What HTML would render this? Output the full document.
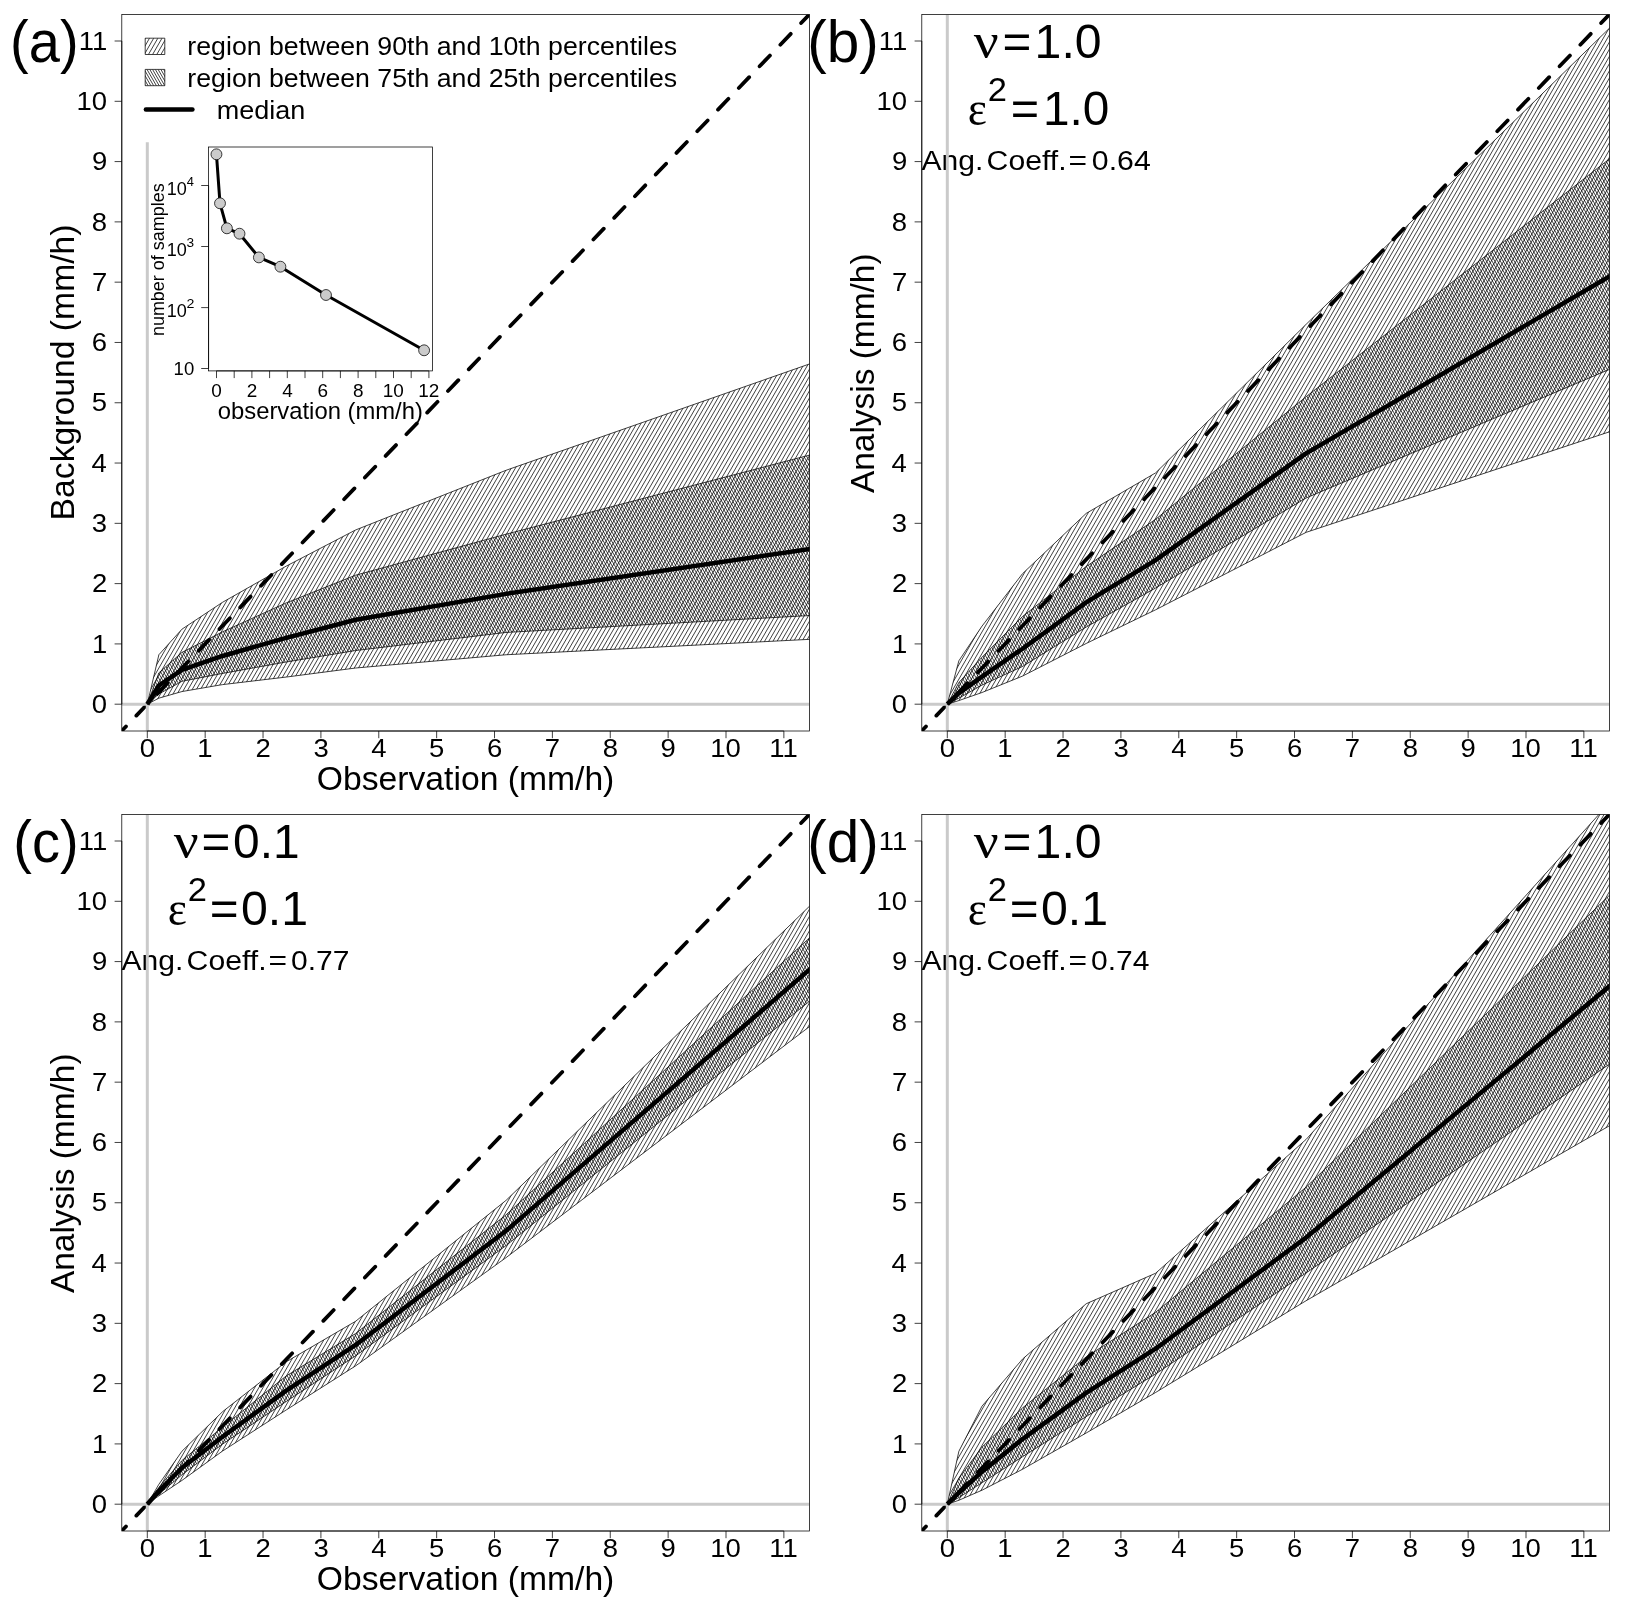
<!DOCTYPE html>
<html lang="en"><head><meta charset="utf-8"><title>Percentile comparison panels</title>
<style>html,body{margin:0;padding:0;background:#fff}svg{display:block}text{fill:#000}</style></head><body>
<svg width="1625" height="1611" viewBox="0 0 1625 1611" style="will-change:transform">
<rect width="1625" height="1611" fill="#fff"/>
<g id="panel-a">
<clipPath id="clipa"><rect x="121.8" y="14.5" width="687.7" height="716.5"/></clipPath>
<g clip-path="url(#clipa)">
<path d="M121.8 730.77L818.59 4.84" stroke="#000" stroke-width="3.75" stroke-dasharray="15 15" stroke-dashoffset="9" stroke-linecap="round" fill="none"/>
<path d="M147.3 142.3V731M121.8 704.2H809.5" stroke="#cacaca" stroke-width="3" fill="none"/>
<clipPath id="pgao"><polygon points="147.3,704.2 158.87,654.76 182.02,629.14 222.53,602.31 286.19,566.14 355.63,529.96 506.09,470.27 824.38,358.74 824.38,638.6 506.09,654.76 355.63,668.03 286.19,677.07 222.53,684.61 182.02,691.54 158.87,698.17 147.3,704.2"/></clipPath>
<g clip-path="url(#pgao)"><path d="M150.38 358.74L-49.07 704.2M154.53 358.74L-44.92 704.2M158.69 358.74L-40.76 704.2M162.85 358.74L-36.6 704.2M167.01 358.74L-32.45 704.2M171.16 358.74L-28.29 704.2M175.32 358.74L-24.13 704.2M179.48 358.74L-19.98 704.2M183.63 358.74L-15.82 704.2M187.79 358.74L-11.66 704.2M191.95 358.74L-7.51 704.2M196.1 358.74L-3.35 704.2M200.26 358.74L0.81 704.2M204.42 358.74L4.97 704.2M208.57 358.74L9.12 704.2M212.73 358.74L13.28 704.2M216.89 358.74L17.44 704.2M221.05 358.74L21.59 704.2M225.2 358.74L25.75 704.2M229.36 358.74L29.91 704.2M233.52 358.74L34.06 704.2M237.67 358.74L38.22 704.2M241.83 358.74L42.38 704.2M245.99 358.74L46.53 704.2M250.14 358.74L50.69 704.2M254.3 358.74L54.85 704.2M258.46 358.74L59.01 704.2M262.61 358.74L63.16 704.2M266.77 358.74L67.32 704.2M270.93 358.74L71.48 704.2M275.09 358.74L75.63 704.2M279.24 358.74L79.79 704.2M283.4 358.74L83.95 704.2M287.56 358.74L88.1 704.2M291.71 358.74L92.26 704.2M295.87 358.74L96.42 704.2M300.03 358.74L100.57 704.2M304.18 358.74L104.73 704.2M308.34 358.74L108.89 704.2M312.5 358.74L113.05 704.2M316.65 358.74L117.2 704.2M320.81 358.74L121.36 704.2M324.97 358.74L125.52 704.2M329.13 358.74L129.67 704.2M333.28 358.74L133.83 704.2M337.44 358.74L137.99 704.2M341.6 358.74L142.14 704.2M345.75 358.74L146.3 704.2M349.91 358.74L150.46 704.2M354.07 358.74L154.61 704.2M358.22 358.74L158.77 704.2M362.38 358.74L162.93 704.2M366.54 358.74L167.09 704.2M370.69 358.74L171.24 704.2M374.85 358.74L175.4 704.2M379.01 358.74L179.56 704.2M383.17 358.74L183.71 704.2M387.32 358.74L187.87 704.2M391.48 358.74L192.03 704.2M395.64 358.74L196.18 704.2M399.79 358.74L200.34 704.2M403.95 358.74L204.5 704.2M408.11 358.74L208.65 704.2M412.26 358.74L212.81 704.2M416.42 358.74L216.97 704.2M420.58 358.74L221.13 704.2M424.73 358.74L225.28 704.2M428.89 358.74L229.44 704.2M433.05 358.74L233.6 704.2M437.21 358.74L237.75 704.2M441.36 358.74L241.91 704.2M445.52 358.74L246.07 704.2M449.68 358.74L250.22 704.2M453.83 358.74L254.38 704.2M457.99 358.74L258.54 704.2M462.15 358.74L262.69 704.2M466.3 358.74L266.85 704.2M470.46 358.74L271.01 704.2M474.62 358.74L275.17 704.2M478.77 358.74L279.32 704.2M482.93 358.74L283.48 704.2M487.09 358.74L287.64 704.2M491.25 358.74L291.79 704.2M495.4 358.74L295.95 704.2M499.56 358.74L300.11 704.2M503.72 358.74L304.26 704.2M507.87 358.74L308.42 704.2M512.03 358.74L312.58 704.2M516.19 358.74L316.73 704.2M520.34 358.74L320.89 704.2M524.5 358.74L325.05 704.2M528.66 358.74L329.21 704.2M532.81 358.74L333.36 704.2M536.97 358.74L337.52 704.2M541.13 358.74L341.68 704.2M545.29 358.74L345.83 704.2M549.44 358.74L349.99 704.2M553.6 358.74L354.15 704.2M557.76 358.74L358.3 704.2M561.91 358.74L362.46 704.2M566.07 358.74L366.62 704.2M570.23 358.74L370.77 704.2M574.38 358.74L374.93 704.2M578.54 358.74L379.09 704.2M582.7 358.74L383.25 704.2M586.85 358.74L387.4 704.2M591.01 358.74L391.56 704.2M595.17 358.74L395.72 704.2M599.33 358.74L399.87 704.2M603.48 358.74L404.03 704.2M607.64 358.74L408.19 704.2M611.8 358.74L412.34 704.2M615.95 358.74L416.5 704.2M620.11 358.74L420.66 704.2M624.27 358.74L424.81 704.2M628.42 358.74L428.97 704.2M632.58 358.74L433.13 704.2M636.74 358.74L437.29 704.2M640.89 358.74L441.44 704.2M645.05 358.74L445.6 704.2M649.21 358.74L449.76 704.2M653.37 358.74L453.91 704.2M657.52 358.74L458.07 704.2M661.68 358.74L462.23 704.2M665.84 358.74L466.38 704.2M669.99 358.74L470.54 704.2M674.15 358.74L474.7 704.2M678.31 358.74L478.85 704.2M682.46 358.74L483.01 704.2M686.62 358.74L487.17 704.2M690.78 358.74L491.33 704.2M694.93 358.74L495.48 704.2M699.09 358.74L499.64 704.2M703.25 358.74L503.8 704.2M707.41 358.74L507.95 704.2M711.56 358.74L512.11 704.2M715.72 358.74L516.27 704.2M719.88 358.74L520.42 704.2M724.03 358.74L524.58 704.2M728.19 358.74L528.74 704.2M732.35 358.74L532.89 704.2M736.5 358.74L537.05 704.2M740.66 358.74L541.21 704.2M744.82 358.74L545.37 704.2M748.97 358.74L549.52 704.2M753.13 358.74L553.68 704.2M757.29 358.74L557.84 704.2M761.45 358.74L561.99 704.2M765.6 358.74L566.15 704.2M769.76 358.74L570.31 704.2M773.92 358.74L574.46 704.2M778.07 358.74L578.62 704.2M782.23 358.74L582.78 704.2M786.39 358.74L586.93 704.2M790.54 358.74L591.09 704.2M794.7 358.74L595.25 704.2M798.86 358.74L599.41 704.2M803.01 358.74L603.56 704.2M807.17 358.74L607.72 704.2M811.33 358.74L611.88 704.2M815.49 358.74L616.03 704.2M819.64 358.74L620.19 704.2M823.8 358.74L624.35 704.2M827.96 358.74L628.5 704.2M832.11 358.74L632.66 704.2M836.27 358.74L636.82 704.2M840.43 358.74L640.97 704.2M844.58 358.74L645.13 704.2M848.74 358.74L649.29 704.2M852.9 358.74L653.45 704.2M857.05 358.74L657.6 704.2M861.21 358.74L661.76 704.2M865.37 358.74L665.92 704.2M869.53 358.74L670.07 704.2M873.68 358.74L674.23 704.2M877.84 358.74L678.39 704.2M882 358.74L682.54 704.2M886.15 358.74L686.7 704.2M890.31 358.74L690.86 704.2M894.47 358.74L695.01 704.2M898.62 358.74L699.17 704.2M902.78 358.74L703.33 704.2M906.94 358.74L707.49 704.2M911.09 358.74L711.64 704.2M915.25 358.74L715.8 704.2M919.41 358.74L719.96 704.2M923.57 358.74L724.11 704.2M927.72 358.74L728.27 704.2M931.88 358.74L732.43 704.2M936.04 358.74L736.58 704.2M940.19 358.74L740.74 704.2M944.35 358.74L744.9 704.2M948.51 358.74L749.05 704.2M952.66 358.74L753.21 704.2M956.82 358.74L757.37 704.2M960.98 358.74L761.53 704.2M965.13 358.74L765.68 704.2M969.29 358.74L769.84 704.2M973.45 358.74L774 704.2M977.61 358.74L778.15 704.2M981.76 358.74L782.31 704.2M985.92 358.74L786.47 704.2M990.08 358.74L790.62 704.2M994.23 358.74L794.78 704.2M998.39 358.74L798.94 704.2M1002.55 358.74L803.09 704.2M1006.7 358.74L807.25 704.2M1010.86 358.74L811.41 704.2M1015.02 358.74L815.56 704.2M1019.17 358.74L819.72 704.2M1023.33 358.74L823.88 704.2" stroke="#000" stroke-width="0.75" fill="none"/></g>
<polygon points="147.3,704.2 158.87,654.76 182.02,629.14 222.53,602.31 286.19,566.14 355.63,529.96 506.09,470.27 824.38,358.74 824.38,638.6 506.09,654.76 355.63,668.03 286.19,677.07 222.53,684.61 182.02,691.54 158.87,698.17 147.3,704.2" fill="none" stroke="#000" stroke-width="0.75" stroke-linejoin="round"/>
<clipPath id="pgai"><polygon points="147.3,704.2 158.87,672.85 182.02,652.35 222.53,631.85 286.19,602.91 355.63,575.18 506.09,534.18 824.38,451.22 824.38,614.73 506.09,632.45 355.63,650.54 286.19,662 222.53,673.45 182.02,681.29 158.87,693.95 147.3,704.2"/></clipPath>
<g clip-path="url(#pgai)"><path d="M823.08 451.22L969.14 704.2M820.31 451.22L966.37 704.2M817.54 451.22L963.6 704.2M814.77 451.22L960.83 704.2M812 451.22L958.06 704.2M809.23 451.22L955.28 704.2M806.46 451.22L952.51 704.2M803.68 451.22L949.74 704.2M800.91 451.22L946.97 704.2M798.14 451.22L944.2 704.2M795.37 451.22L941.43 704.2M792.6 451.22L938.66 704.2M789.83 451.22L935.88 704.2M787.06 451.22L933.11 704.2M784.29 451.22L930.34 704.2M781.51 451.22L927.57 704.2M778.74 451.22L924.8 704.2M775.97 451.22L922.03 704.2M773.2 451.22L919.26 704.2M770.43 451.22L916.49 704.2M767.66 451.22L913.71 704.2M764.89 451.22L910.94 704.2M762.12 451.22L908.17 704.2M759.34 451.22L905.4 704.2M756.57 451.22L902.63 704.2M753.8 451.22L899.86 704.2M751.03 451.22L897.09 704.2M748.26 451.22L894.32 704.2M745.49 451.22L891.54 704.2M742.72 451.22L888.77 704.2M739.95 451.22L886 704.2M737.17 451.22L883.23 704.2M734.4 451.22L880.46 704.2M731.63 451.22L877.69 704.2M728.86 451.22L874.92 704.2M726.09 451.22L872.15 704.2M723.32 451.22L869.37 704.2M720.55 451.22L866.6 704.2M717.78 451.22L863.83 704.2M715 451.22L861.06 704.2M712.23 451.22L858.29 704.2M709.46 451.22L855.52 704.2M706.69 451.22L852.75 704.2M703.92 451.22L849.98 704.2M701.15 451.22L847.2 704.2M698.38 451.22L844.43 704.2M695.6 451.22L841.66 704.2M692.83 451.22L838.89 704.2M690.06 451.22L836.12 704.2M687.29 451.22L833.35 704.2M684.52 451.22L830.58 704.2M681.75 451.22L827.8 704.2M678.98 451.22L825.03 704.2M676.21 451.22L822.26 704.2M673.43 451.22L819.49 704.2M670.66 451.22L816.72 704.2M667.89 451.22L813.95 704.2M665.12 451.22L811.18 704.2M662.35 451.22L808.41 704.2M659.58 451.22L805.63 704.2M656.81 451.22L802.86 704.2M654.04 451.22L800.09 704.2M651.26 451.22L797.32 704.2M648.49 451.22L794.55 704.2M645.72 451.22L791.78 704.2M642.95 451.22L789.01 704.2M640.18 451.22L786.24 704.2M637.41 451.22L783.46 704.2M634.64 451.22L780.69 704.2M631.87 451.22L777.92 704.2M629.09 451.22L775.15 704.2M626.32 451.22L772.38 704.2M623.55 451.22L769.61 704.2M620.78 451.22L766.84 704.2M618.01 451.22L764.07 704.2M615.24 451.22L761.29 704.2M612.47 451.22L758.52 704.2M609.7 451.22L755.75 704.2M606.92 451.22L752.98 704.2M604.15 451.22L750.21 704.2M601.38 451.22L747.44 704.2M598.61 451.22L744.67 704.2M595.84 451.22L741.9 704.2M593.07 451.22L739.12 704.2M590.3 451.22L736.35 704.2M587.53 451.22L733.58 704.2M584.75 451.22L730.81 704.2M581.98 451.22L728.04 704.2M579.21 451.22L725.27 704.2M576.44 451.22L722.5 704.2M573.67 451.22L719.72 704.2M570.9 451.22L716.95 704.2M568.13 451.22L714.18 704.2M565.35 451.22L711.41 704.2M562.58 451.22L708.64 704.2M559.81 451.22L705.87 704.2M557.04 451.22L703.1 704.2M554.27 451.22L700.33 704.2M551.5 451.22L697.55 704.2M548.73 451.22L694.78 704.2M545.96 451.22L692.01 704.2M543.18 451.22L689.24 704.2M540.41 451.22L686.47 704.2M537.64 451.22L683.7 704.2M534.87 451.22L680.93 704.2M532.1 451.22L678.16 704.2M529.33 451.22L675.38 704.2M526.56 451.22L672.61 704.2M523.79 451.22L669.84 704.2M521.01 451.22L667.07 704.2M518.24 451.22L664.3 704.2M515.47 451.22L661.53 704.2M512.7 451.22L658.76 704.2M509.93 451.22L655.99 704.2M507.16 451.22L653.21 704.2M504.39 451.22L650.44 704.2M501.62 451.22L647.67 704.2M498.84 451.22L644.9 704.2M496.07 451.22L642.13 704.2M493.3 451.22L639.36 704.2M490.53 451.22L636.59 704.2M487.76 451.22L633.82 704.2M484.99 451.22L631.04 704.2M482.22 451.22L628.27 704.2M479.45 451.22L625.5 704.2M476.67 451.22L622.73 704.2M473.9 451.22L619.96 704.2M471.13 451.22L617.19 704.2M468.36 451.22L614.42 704.2M465.59 451.22L611.64 704.2M462.82 451.22L608.87 704.2M460.05 451.22L606.1 704.2M457.27 451.22L603.33 704.2M454.5 451.22L600.56 704.2M451.73 451.22L597.79 704.2M448.96 451.22L595.02 704.2M446.19 451.22L592.25 704.2M443.42 451.22L589.47 704.2M440.65 451.22L586.7 704.2M437.88 451.22L583.93 704.2M435.1 451.22L581.16 704.2M432.33 451.22L578.39 704.2M429.56 451.22L575.62 704.2M426.79 451.22L572.85 704.2M424.02 451.22L570.08 704.2M421.25 451.22L567.3 704.2M418.48 451.22L564.53 704.2M415.71 451.22L561.76 704.2M412.93 451.22L558.99 704.2M410.16 451.22L556.22 704.2M407.39 451.22L553.45 704.2M404.62 451.22L550.68 704.2M401.85 451.22L547.91 704.2M399.08 451.22L545.13 704.2M396.31 451.22L542.36 704.2M393.54 451.22L539.59 704.2M390.76 451.22L536.82 704.2M387.99 451.22L534.05 704.2M385.22 451.22L531.28 704.2M382.45 451.22L528.51 704.2M379.68 451.22L525.74 704.2M376.91 451.22L522.96 704.2M374.14 451.22L520.19 704.2M371.37 451.22L517.42 704.2M368.59 451.22L514.65 704.2M365.82 451.22L511.88 704.2M363.05 451.22L509.11 704.2M360.28 451.22L506.34 704.2M357.51 451.22L503.56 704.2M354.74 451.22L500.79 704.2M351.97 451.22L498.02 704.2M349.19 451.22L495.25 704.2M346.42 451.22L492.48 704.2M343.65 451.22L489.71 704.2M340.88 451.22L486.94 704.2M338.11 451.22L484.17 704.2M335.34 451.22L481.39 704.2M332.57 451.22L478.62 704.2M329.8 451.22L475.85 704.2M327.02 451.22L473.08 704.2M324.25 451.22L470.31 704.2M321.48 451.22L467.54 704.2M318.71 451.22L464.77 704.2M315.94 451.22L462 704.2M313.17 451.22L459.22 704.2M310.4 451.22L456.45 704.2M307.63 451.22L453.68 704.2M304.85 451.22L450.91 704.2M302.08 451.22L448.14 704.2M299.31 451.22L445.37 704.2M296.54 451.22L442.6 704.2M293.77 451.22L439.83 704.2M291 451.22L437.05 704.2M288.23 451.22L434.28 704.2M285.46 451.22L431.51 704.2M282.68 451.22L428.74 704.2M279.91 451.22L425.97 704.2M277.14 451.22L423.2 704.2M274.37 451.22L420.43 704.2M271.6 451.22L417.66 704.2M268.83 451.22L414.88 704.2M266.06 451.22L412.11 704.2M263.29 451.22L409.34 704.2M260.51 451.22L406.57 704.2M257.74 451.22L403.8 704.2M254.97 451.22L401.03 704.2M252.2 451.22L398.26 704.2M249.43 451.22L395.48 704.2M246.66 451.22L392.71 704.2M243.89 451.22L389.94 704.2M241.11 451.22L387.17 704.2M238.34 451.22L384.4 704.2M235.57 451.22L381.63 704.2M232.8 451.22L378.86 704.2M230.03 451.22L376.09 704.2M227.26 451.22L373.31 704.2M224.49 451.22L370.54 704.2M221.72 451.22L367.77 704.2M218.94 451.22L365 704.2M216.17 451.22L362.23 704.2M213.4 451.22L359.46 704.2M210.63 451.22L356.69 704.2M207.86 451.22L353.92 704.2M205.09 451.22L351.14 704.2M202.32 451.22L348.37 704.2M199.55 451.22L345.6 704.2M196.77 451.22L342.83 704.2M194 451.22L340.06 704.2M191.23 451.22L337.29 704.2M188.46 451.22L334.52 704.2M185.69 451.22L331.75 704.2M182.92 451.22L328.97 704.2M180.15 451.22L326.2 704.2M177.38 451.22L323.43 704.2M174.6 451.22L320.66 704.2M171.83 451.22L317.89 704.2M169.06 451.22L315.12 704.2M166.29 451.22L312.35 704.2M163.52 451.22L309.58 704.2M160.75 451.22L306.8 704.2M157.98 451.22L304.03 704.2M155.21 451.22L301.26 704.2M152.43 451.22L298.49 704.2M149.66 451.22L295.72 704.2M146.89 451.22L292.95 704.2M144.12 451.22L290.18 704.2M141.35 451.22L287.4 704.2M138.58 451.22L284.63 704.2M135.81 451.22L281.86 704.2M133.03 451.22L279.09 704.2M130.26 451.22L276.32 704.2M127.49 451.22L273.55 704.2M124.72 451.22L270.78 704.2M121.95 451.22L268.01 704.2M119.18 451.22L265.23 704.2M116.41 451.22L262.46 704.2M113.64 451.22L259.69 704.2M110.86 451.22L256.92 704.2M108.09 451.22L254.15 704.2M105.32 451.22L251.38 704.2M102.55 451.22L248.61 704.2M99.78 451.22L245.84 704.2M97.01 451.22L243.06 704.2M94.24 451.22L240.29 704.2M91.47 451.22L237.52 704.2M88.69 451.22L234.75 704.2M85.92 451.22L231.98 704.2M83.15 451.22L229.21 704.2M80.38 451.22L226.44 704.2M77.61 451.22L223.67 704.2M74.84 451.22L220.89 704.2M72.07 451.22L218.12 704.2M69.3 451.22L215.35 704.2M66.52 451.22L212.58 704.2M63.75 451.22L209.81 704.2M60.98 451.22L207.04 704.2M58.21 451.22L204.27 704.2M55.44 451.22L201.5 704.2M52.67 451.22L198.72 704.2M49.9 451.22L195.95 704.2M47.13 451.22L193.18 704.2M44.35 451.22L190.41 704.2M41.58 451.22L187.64 704.2M38.81 451.22L184.87 704.2M36.04 451.22L182.1 704.2M33.27 451.22L179.32 704.2M30.5 451.22L176.55 704.2M27.73 451.22L173.78 704.2M24.95 451.22L171.01 704.2M22.18 451.22L168.24 704.2M19.41 451.22L165.47 704.2M16.64 451.22L162.7 704.2M13.87 451.22L159.93 704.2M11.1 451.22L157.15 704.2M8.33 451.22L154.38 704.2M5.56 451.22L151.61 704.2M2.78 451.22L148.84 704.2" stroke="#000" stroke-width="0.75" fill="none"/></g>
<polygon points="147.3,704.2 158.87,672.85 182.02,652.35 222.53,631.85 286.19,602.91 355.63,575.18 506.09,534.18 824.38,451.22 824.38,614.73 506.09,632.45 355.63,650.54 286.19,662 222.53,673.45 182.02,681.29 158.87,693.95 147.3,704.2" fill="none" stroke="#000" stroke-width="0.75" stroke-linejoin="round"/>
<polyline points="147.3,704.2 158.87,685.51 182.02,669.83 222.53,655.97 286.19,637.88 355.63,619.79 506.09,593.87 824.38,546.84" fill="none" stroke="#000" stroke-width="4.5" stroke-linejoin="round" stroke-linecap="butt"/>
</g>
<clipPath id="lg38"><polygon points="145.2,38.2 164.8,38.2 164.8,54.5 145.2,54.5"/></clipPath>
<g clip-path="url(#lg38)"><path d="M145.38 38.2L135.97 54.5M149.53 38.2L140.12 54.5M153.69 38.2L144.28 54.5M157.85 38.2L148.44 54.5M162 38.2L152.59 54.5M166.16 38.2L156.75 54.5M170.32 38.2L160.91 54.5" stroke="#000" stroke-width="0.75" fill="none"/></g>
<polygon points="145.2,38.2 164.8,38.2 164.8,54.5 145.2,54.5" fill="none" stroke="#000" stroke-width="0.75"/>
<clipPath id="lg69"><polygon points="145.2,69.4 164.8,69.4 164.8,85.7 145.2,85.7"/></clipPath>
<g clip-path="url(#lg69)"><path d="M163.62 69.4L173.03 85.7M160.85 69.4L170.26 85.7M158.08 69.4L167.49 85.7M155.31 69.4L164.72 85.7M152.54 69.4L161.95 85.7M149.76 69.4L159.18 85.7M146.99 69.4L156.4 85.7M144.22 69.4L153.63 85.7M141.45 69.4L150.86 85.7M138.68 69.4L148.09 85.7M135.91 69.4L145.32 85.7" stroke="#000" stroke-width="0.75" fill="none"/></g>
<polygon points="145.2,69.4 164.8,69.4 164.8,85.7 145.2,85.7" fill="none" stroke="#000" stroke-width="0.75"/>
<path d="M145.9 109.5H192.4" stroke="#000" stroke-width="4.5" stroke-linecap="round"/>
<text transform="translate(187.36 55) scale(1.0311 1)" style="font-family:'Liberation Sans',sans-serif;font-size:25.9px">region between 90th and 10th percentiles</text>
<text transform="translate(187.36 86.8) scale(1.0311 1)" style="font-family:'Liberation Sans',sans-serif;font-size:25.9px">region between 75th and 25th percentiles</text>
<text transform="translate(216.64 118.6) scale(1.0431 1)" style="font-family:'Liberation Sans',sans-serif;font-size:25.9px">median</text>
<rect x="208.6" y="147" width="223.8" height="223.9" fill="#fff" stroke="#000" stroke-width="0.75"/>
<path d="M216.5 370.9H428.9M216.5 370.9v7.2M234.2 370.9v7.2M251.9 370.9v7.2M269.6 370.9v7.2M287.3 370.9v7.2M305 370.9v7.2M322.7 370.9v7.2M340.4 370.9v7.2M358.1 370.9v7.2M375.8 370.9v7.2M393.5 370.9v7.2M411.2 370.9v7.2M428.9 370.9v7.2M208.6 185.5V368.5M208.6 185.5h-7.4M208.6 246.5h-7.4M208.6 307.6h-7.4M208.6 368.5h-7.4" stroke="#000" stroke-width="0.75" fill="none"/>
<text transform="translate(211.34 396.8) scale(1.0300 1)" style="font-family:'Liberation Sans',sans-serif;font-size:18.4px">0</text>
<text transform="translate(246.72 396.8) scale(1.0300 1)" style="font-family:'Liberation Sans',sans-serif;font-size:18.4px">2</text>
<text transform="translate(282.19 396.8) scale(1.0300 1)" style="font-family:'Liberation Sans',sans-serif;font-size:18.4px">4</text>
<text transform="translate(317.47 396.8) scale(1.0300 1)" style="font-family:'Liberation Sans',sans-serif;font-size:18.4px">6</text>
<text transform="translate(352.94 396.8) scale(1.0300 1)" style="font-family:'Liberation Sans',sans-serif;font-size:18.4px">8</text>
<text transform="translate(382.73 396.8) scale(1.0300 1)" style="font-family:'Liberation Sans',sans-serif;font-size:18.4px">10</text>
<text transform="translate(418.22 396.8) scale(1.0300 1)" style="font-family:'Liberation Sans',sans-serif;font-size:18.4px">12</text>
<text transform="translate(166.65 194.8) scale(0.9807 1)" style="font-family:'Liberation Sans',sans-serif;font-size:18.4px">10</text>
<text transform="translate(186.81 185.8) scale(1.0171 1)" style="font-family:'Liberation Sans',sans-serif;font-size:12.65px">4</text>
<text transform="translate(166.65 255.8) scale(0.9807 1)" style="font-family:'Liberation Sans',sans-serif;font-size:18.4px">10</text>
<text transform="translate(186.59 246.78) scale(1.1002 1)" style="font-family:'Liberation Sans',sans-serif;font-size:12.44px">3</text>
<text transform="translate(166.65 316.9) scale(0.9807 1)" style="font-family:'Liberation Sans',sans-serif;font-size:18.4px">10</text>
<text transform="translate(186.39 308) scale(1.1261 1)" style="font-family:'Liberation Sans',sans-serif;font-size:12.62px">2</text>
<text transform="translate(173.61 374.9) scale(1.0080 1)" style="font-family:'Liberation Sans',sans-serif;font-size:18.4px">10</text>
<text transform="translate(164 336.07) rotate(-90) scale(1.0037 1)" style="font-family:'Liberation Sans',sans-serif;font-size:17.9px">number of samples</text>
<text transform="translate(217.79 418.9) scale(1.0311 1)" style="font-family:'Liberation Sans',sans-serif;font-size:23.1px">observation (mm/h)</text>
<polyline points="216.45,154.3 220,203.3 226.9,228.3 239.5,233.7 258.9,257.4 280.4,266.7 326,295 424.1,350.3" fill="none" stroke="#000" stroke-width="3" stroke-linejoin="round"/>
<circle cx="216.45" cy="154.3" r="5.45" fill="#cbcbcb" stroke="#000" stroke-width="0.75"/>
<circle cx="220" cy="203.3" r="5.45" fill="#cbcbcb" stroke="#000" stroke-width="0.75"/>
<circle cx="226.9" cy="228.3" r="5.45" fill="#cbcbcb" stroke="#000" stroke-width="0.75"/>
<circle cx="239.5" cy="233.7" r="5.45" fill="#cbcbcb" stroke="#000" stroke-width="0.75"/>
<circle cx="258.9" cy="257.4" r="5.45" fill="#cbcbcb" stroke="#000" stroke-width="0.75"/>
<circle cx="280.4" cy="266.7" r="5.45" fill="#cbcbcb" stroke="#000" stroke-width="0.75"/>
<circle cx="326" cy="295" r="5.45" fill="#cbcbcb" stroke="#000" stroke-width="0.75"/>
<circle cx="424.1" cy="350.3" r="5.45" fill="#cbcbcb" stroke="#000" stroke-width="0.75"/>
<rect x="121.8" y="14.5" width="687.7" height="716.5" fill="none" stroke="#000" stroke-width="0.75"/>
<path d="M147.3 731H783.87M121.8 704.2V41.01M147.3 731v7.2M121.8 704.2h-7.2M205.17 731v7.2M121.8 643.91h-7.2M263.04 731v7.2M121.8 583.62h-7.2M320.91 731v7.2M121.8 523.33h-7.2M378.78 731v7.2M121.8 463.04h-7.2M436.65 731v7.2M121.8 402.75h-7.2M494.52 731v7.2M121.8 342.46h-7.2M552.39 731v7.2M121.8 282.17h-7.2M610.26 731v7.2M121.8 221.88h-7.2M668.13 731v7.2M121.8 161.59h-7.2M726 731v7.2M121.8 101.3h-7.2M783.87 731v7.2M121.8 41.01h-7.2" stroke="#000" stroke-width="0.75" fill="none"/>
<text transform="translate(139.77 756.7) scale(1.0700 1)" style="font-family:'Liberation Sans',sans-serif;font-size:25.7px">0</text>
<text transform="translate(197.26 756.7) scale(1.0700 1)" style="font-family:'Liberation Sans',sans-serif;font-size:25.7px">1</text>
<text transform="translate(255.47 756.7) scale(1.0700 1)" style="font-family:'Liberation Sans',sans-serif;font-size:25.7px">2</text>
<text transform="translate(313.45 756.7) scale(1.0700 1)" style="font-family:'Liberation Sans',sans-serif;font-size:25.7px">3</text>
<text transform="translate(371.32 756.7) scale(1.0700 1)" style="font-family:'Liberation Sans',sans-serif;font-size:25.7px">4</text>
<text transform="translate(429.12 756.7) scale(1.0700 1)" style="font-family:'Liberation Sans',sans-serif;font-size:25.7px">5</text>
<text transform="translate(486.89 756.7) scale(1.0700 1)" style="font-family:'Liberation Sans',sans-serif;font-size:25.7px">6</text>
<text transform="translate(544.82 756.7) scale(1.0700 1)" style="font-family:'Liberation Sans',sans-serif;font-size:25.7px">7</text>
<text transform="translate(602.73 756.7) scale(1.0700 1)" style="font-family:'Liberation Sans',sans-serif;font-size:25.7px">8</text>
<text transform="translate(660.56 756.7) scale(1.0700 1)" style="font-family:'Liberation Sans',sans-serif;font-size:25.7px">9</text>
<text transform="translate(710.32 756.7) scale(1.0700 1)" style="font-family:'Liberation Sans',sans-serif;font-size:25.7px">10</text>
<text transform="translate(769.33 756.7) scale(1.0700 1)" style="font-family:'Liberation Sans',sans-serif;font-size:25.7px">11</text>
<text transform="translate(91.67 712.9) scale(1.0700 1)" style="font-family:'Liberation Sans',sans-serif;font-size:25.7px">0</text>
<text transform="translate(91.94 652.61) scale(1.0700 1)" style="font-family:'Liberation Sans',sans-serif;font-size:25.7px">1</text>
<text transform="translate(91.94 592.32) scale(1.0700 1)" style="font-family:'Liberation Sans',sans-serif;font-size:25.7px">2</text>
<text transform="translate(91.81 532.03) scale(1.0700 1)" style="font-family:'Liberation Sans',sans-serif;font-size:25.7px">3</text>
<text transform="translate(91.39 471.74) scale(1.0700 1)" style="font-family:'Liberation Sans',sans-serif;font-size:25.7px">4</text>
<text transform="translate(91.74 411.45) scale(1.0700 1)" style="font-family:'Liberation Sans',sans-serif;font-size:25.7px">5</text>
<text transform="translate(91.81 351.16) scale(1.0700 1)" style="font-family:'Liberation Sans',sans-serif;font-size:25.7px">6</text>
<text transform="translate(91.94 290.87) scale(1.0700 1)" style="font-family:'Liberation Sans',sans-serif;font-size:25.7px">7</text>
<text transform="translate(91.81 230.58) scale(1.0700 1)" style="font-family:'Liberation Sans',sans-serif;font-size:25.7px">8</text>
<text transform="translate(91.88 170.29) scale(1.0700 1)" style="font-family:'Liberation Sans',sans-serif;font-size:25.7px">9</text>
<text transform="translate(76.41 110) scale(1.0700 1)" style="font-family:'Liberation Sans',sans-serif;font-size:25.7px">10</text>
<text transform="translate(78.68 49.71) scale(1.0700 1)" style="font-family:'Liberation Sans',sans-serif;font-size:25.7px">11</text>
<text transform="translate(316.8 789.9) scale(1.0270 1)" style="font-family:'Liberation Sans',sans-serif;font-size:32.8px">Observation (mm/h)</text>
<text transform="translate(74.3 520.38) rotate(-90) scale(1.0278 1)" style="font-family:'Liberation Sans',sans-serif;font-size:32.8px">Background (mm/h)</text>
<text transform="translate(10.1 62) scale(0.9492 1)" style="font-family:'Liberation Sans',sans-serif;font-size:59px">(a)</text>
</g>
<g id="panel-b">
<text transform="translate(921.52 169.5) scale(1.0897 1)" style="font-family:'Liberation Sans',sans-serif;font-size:27.6px">Ang.</text>
<text transform="translate(986.59 169.5) scale(1.0942 1)" style="font-family:'Liberation Sans',sans-serif;font-size:27.6px">Coeff.</text>
<text transform="translate(1068.59 169.5) scale(1.1520 1)" style="font-family:'Liberation Sans',sans-serif;font-size:27.6px">=</text>
<text transform="translate(1091.87 169.5) scale(1.0966 1)" style="font-family:'Liberation Sans',sans-serif;font-size:27.6px">0.64</text>
<clipPath id="clipb"><rect x="921.8" y="14.5" width="687.7" height="716.5"/></clipPath>
<g clip-path="url(#clipb)">
<path d="M921.8 730.77L1618.59 4.84" stroke="#000" stroke-width="3.75" stroke-dasharray="15 15" stroke-dashoffset="9" stroke-linecap="round" fill="none"/>
<path d="M947.3 14.5V731M921.8 704.2H1609.5" stroke="#cacaca" stroke-width="3" fill="none"/>
<clipPath id="pgbo"><polygon points="947.3,704.2 958.87,660.79 982.02,626.12 1022.53,573.67 1086.19,513.38 1155.63,472.87 1306.09,324.37 1624.38,13.58 1624.38,426.87 1306.09,532.37 1155.63,609.79 1086.19,643.49 1022.53,676.1 982.02,692.5 958.87,700.58 947.3,704.2"/></clipPath>
<g clip-path="url(#pgbo)"><path d="M948.25 13.58L549.52 704.2M952.41 13.58L553.68 704.2M956.57 13.58L557.84 704.2M960.72 13.58L561.99 704.2M964.88 13.58L566.15 704.2M969.04 13.58L570.31 704.2M973.19 13.58L574.46 704.2M977.35 13.58L578.62 704.2M981.51 13.58L582.78 704.2M985.67 13.58L586.93 704.2M989.82 13.58L591.09 704.2M993.98 13.58L595.25 704.2M998.14 13.58L599.41 704.2M1002.29 13.58L603.56 704.2M1006.45 13.58L607.72 704.2M1010.61 13.58L611.88 704.2M1014.76 13.58L616.03 704.2M1018.92 13.58L620.19 704.2M1023.08 13.58L624.35 704.2M1027.23 13.58L628.5 704.2M1031.39 13.58L632.66 704.2M1035.55 13.58L636.82 704.2M1039.71 13.58L640.97 704.2M1043.86 13.58L645.13 704.2M1048.02 13.58L649.29 704.2M1052.18 13.58L653.45 704.2M1056.33 13.58L657.6 704.2M1060.49 13.58L661.76 704.2M1064.65 13.58L665.92 704.2M1068.8 13.58L670.07 704.2M1072.96 13.58L674.23 704.2M1077.12 13.58L678.39 704.2M1081.27 13.58L682.54 704.2M1085.43 13.58L686.7 704.2M1089.59 13.58L690.86 704.2M1093.75 13.58L695.01 704.2M1097.9 13.58L699.17 704.2M1102.06 13.58L703.33 704.2M1106.22 13.58L707.49 704.2M1110.37 13.58L711.64 704.2M1114.53 13.58L715.8 704.2M1118.69 13.58L719.96 704.2M1122.84 13.58L724.11 704.2M1127 13.58L728.27 704.2M1131.16 13.58L732.43 704.2M1135.31 13.58L736.58 704.2M1139.47 13.58L740.74 704.2M1143.63 13.58L744.9 704.2M1147.79 13.58L749.05 704.2M1151.94 13.58L753.21 704.2M1156.1 13.58L757.37 704.2M1160.26 13.58L761.53 704.2M1164.41 13.58L765.68 704.2M1168.57 13.58L769.84 704.2M1172.73 13.58L774 704.2M1176.88 13.58L778.15 704.2M1181.04 13.58L782.31 704.2M1185.2 13.58L786.47 704.2M1189.35 13.58L790.62 704.2M1193.51 13.58L794.78 704.2M1197.67 13.58L798.94 704.2M1201.82 13.58L803.09 704.2M1205.98 13.58L807.25 704.2M1210.14 13.58L811.41 704.2M1214.3 13.58L815.56 704.2M1218.45 13.58L819.72 704.2M1222.61 13.58L823.88 704.2M1226.77 13.58L828.04 704.2M1230.92 13.58L832.19 704.2M1235.08 13.58L836.35 704.2M1239.24 13.58L840.51 704.2M1243.39 13.58L844.66 704.2M1247.55 13.58L848.82 704.2M1251.71 13.58L852.98 704.2M1255.86 13.58L857.13 704.2M1260.02 13.58L861.29 704.2M1264.18 13.58L865.45 704.2M1268.34 13.58L869.6 704.2M1272.49 13.58L873.76 704.2M1276.65 13.58L877.92 704.2M1280.81 13.58L882.08 704.2M1284.96 13.58L886.23 704.2M1289.12 13.58L890.39 704.2M1293.28 13.58L894.55 704.2M1297.43 13.58L898.7 704.2M1301.59 13.58L902.86 704.2M1305.75 13.58L907.02 704.2M1309.9 13.58L911.17 704.2M1314.06 13.58L915.33 704.2M1318.22 13.58L919.49 704.2M1322.38 13.58L923.64 704.2M1326.53 13.58L927.8 704.2M1330.69 13.58L931.96 704.2M1334.85 13.58L936.12 704.2M1339 13.58L940.27 704.2M1343.16 13.58L944.43 704.2M1347.32 13.58L948.59 704.2M1351.47 13.58L952.74 704.2M1355.63 13.58L956.9 704.2M1359.79 13.58L961.06 704.2M1363.94 13.58L965.21 704.2M1368.1 13.58L969.37 704.2M1372.26 13.58L973.53 704.2M1376.42 13.58L977.68 704.2M1380.57 13.58L981.84 704.2M1384.73 13.58L986 704.2M1388.89 13.58L990.16 704.2M1393.04 13.58L994.31 704.2M1397.2 13.58L998.47 704.2M1401.36 13.58L1002.63 704.2M1405.51 13.58L1006.78 704.2M1409.67 13.58L1010.94 704.2M1413.83 13.58L1015.1 704.2M1417.98 13.58L1019.25 704.2M1422.14 13.58L1023.41 704.2M1426.3 13.58L1027.57 704.2M1430.46 13.58L1031.72 704.2M1434.61 13.58L1035.88 704.2M1438.77 13.58L1040.04 704.2M1442.93 13.58L1044.2 704.2M1447.08 13.58L1048.35 704.2M1451.24 13.58L1052.51 704.2M1455.4 13.58L1056.67 704.2M1459.55 13.58L1060.82 704.2M1463.71 13.58L1064.98 704.2M1467.87 13.58L1069.14 704.2M1472.02 13.58L1073.29 704.2M1476.18 13.58L1077.45 704.2M1480.34 13.58L1081.61 704.2M1484.5 13.58L1085.76 704.2M1488.65 13.58L1089.92 704.2M1492.81 13.58L1094.08 704.2M1496.97 13.58L1098.24 704.2M1501.12 13.58L1102.39 704.2M1505.28 13.58L1106.55 704.2M1509.44 13.58L1110.71 704.2M1513.59 13.58L1114.86 704.2M1517.75 13.58L1119.02 704.2M1521.91 13.58L1123.18 704.2M1526.06 13.58L1127.33 704.2M1530.22 13.58L1131.49 704.2M1534.38 13.58L1135.65 704.2M1538.54 13.58L1139.8 704.2M1542.69 13.58L1143.96 704.2M1546.85 13.58L1148.12 704.2M1551.01 13.58L1152.28 704.2M1555.16 13.58L1156.43 704.2M1559.32 13.58L1160.59 704.2M1563.48 13.58L1164.75 704.2M1567.63 13.58L1168.9 704.2M1571.79 13.58L1173.06 704.2M1575.95 13.58L1177.22 704.2M1580.1 13.58L1181.37 704.2M1584.26 13.58L1185.53 704.2M1588.42 13.58L1189.69 704.2M1592.58 13.58L1193.84 704.2M1596.73 13.58L1198 704.2M1600.89 13.58L1202.16 704.2M1605.05 13.58L1206.32 704.2M1609.2 13.58L1210.47 704.2M1613.36 13.58L1214.63 704.2M1617.52 13.58L1218.79 704.2M1621.67 13.58L1222.94 704.2M1625.83 13.58L1227.1 704.2M1629.99 13.58L1231.26 704.2M1634.14 13.58L1235.41 704.2M1638.3 13.58L1239.57 704.2M1642.46 13.58L1243.73 704.2M1646.62 13.58L1247.88 704.2M1650.77 13.58L1252.04 704.2M1654.93 13.58L1256.2 704.2M1659.09 13.58L1260.36 704.2M1663.24 13.58L1264.51 704.2M1667.4 13.58L1268.67 704.2M1671.56 13.58L1272.83 704.2M1675.71 13.58L1276.98 704.2M1679.87 13.58L1281.14 704.2M1684.03 13.58L1285.3 704.2M1688.18 13.58L1289.45 704.2M1692.34 13.58L1293.61 704.2M1696.5 13.58L1297.77 704.2M1700.66 13.58L1301.92 704.2M1704.81 13.58L1306.08 704.2M1708.97 13.58L1310.24 704.2M1713.13 13.58L1314.4 704.2M1717.28 13.58L1318.55 704.2M1721.44 13.58L1322.71 704.2M1725.6 13.58L1326.87 704.2M1729.75 13.58L1331.02 704.2M1733.91 13.58L1335.18 704.2M1738.07 13.58L1339.34 704.2M1742.22 13.58L1343.49 704.2M1746.38 13.58L1347.65 704.2M1750.54 13.58L1351.81 704.2M1754.7 13.58L1355.96 704.2M1758.85 13.58L1360.12 704.2M1763.01 13.58L1364.28 704.2M1767.17 13.58L1368.44 704.2M1771.32 13.58L1372.59 704.2M1775.48 13.58L1376.75 704.2M1779.64 13.58L1380.91 704.2M1783.79 13.58L1385.06 704.2M1787.95 13.58L1389.22 704.2M1792.11 13.58L1393.38 704.2M1796.26 13.58L1397.53 704.2M1800.42 13.58L1401.69 704.2M1804.58 13.58L1405.85 704.2M1808.74 13.58L1410 704.2M1812.89 13.58L1414.16 704.2M1817.05 13.58L1418.32 704.2M1821.21 13.58L1422.48 704.2M1825.36 13.58L1426.63 704.2M1829.52 13.58L1430.79 704.2M1833.68 13.58L1434.95 704.2M1837.83 13.58L1439.1 704.2M1841.99 13.58L1443.26 704.2M1846.15 13.58L1447.42 704.2M1850.3 13.58L1451.57 704.2M1854.46 13.58L1455.73 704.2M1858.62 13.58L1459.89 704.2M1862.78 13.58L1464.04 704.2M1866.93 13.58L1468.2 704.2M1871.09 13.58L1472.36 704.2M1875.25 13.58L1476.52 704.2M1879.4 13.58L1480.67 704.2M1883.56 13.58L1484.83 704.2M1887.72 13.58L1488.99 704.2M1891.87 13.58L1493.14 704.2M1896.03 13.58L1497.3 704.2M1900.19 13.58L1501.46 704.2M1904.34 13.58L1505.61 704.2M1908.5 13.58L1509.77 704.2M1912.66 13.58L1513.93 704.2M1916.82 13.58L1518.08 704.2M1920.97 13.58L1522.24 704.2M1925.13 13.58L1526.4 704.2M1929.29 13.58L1530.56 704.2M1933.44 13.58L1534.71 704.2M1937.6 13.58L1538.87 704.2M1941.76 13.58L1543.03 704.2M1945.91 13.58L1547.18 704.2M1950.07 13.58L1551.34 704.2M1954.23 13.58L1555.5 704.2M1958.38 13.58L1559.65 704.2M1962.54 13.58L1563.81 704.2M1966.7 13.58L1567.97 704.2M1970.86 13.58L1572.12 704.2M1975.01 13.58L1576.28 704.2M1979.17 13.58L1580.44 704.2M1983.33 13.58L1584.6 704.2M1987.48 13.58L1588.75 704.2M1991.64 13.58L1592.91 704.2M1995.8 13.58L1597.07 704.2M1999.95 13.58L1601.22 704.2M2004.11 13.58L1605.38 704.2M2008.27 13.58L1609.54 704.2M2012.42 13.58L1613.69 704.2M2016.58 13.58L1617.85 704.2M2020.74 13.58L1622.01 704.2" stroke="#000" stroke-width="0.75" fill="none"/></g>
<polygon points="947.3,704.2 958.87,660.79 982.02,626.12 1022.53,573.67 1086.19,513.38 1155.63,472.87 1306.09,324.37 1624.38,13.58 1624.38,426.87 1306.09,532.37 1155.63,609.79 1086.19,643.49 1022.53,676.1 982.02,692.5 958.87,700.58 947.3,704.2" fill="none" stroke="#000" stroke-width="0.75" stroke-linejoin="round"/>
<clipPath id="pgbi"><polygon points="947.3,704.2 958.87,682.5 982.02,657.17 1022.53,616.48 1086.19,566.5 1155.63,519.29 1306.09,396.72 1624.38,147.12 1624.38,363.08 1306.09,498.01 1155.63,588.02 1086.19,627.09 1022.53,666.46 982.02,685.09 958.87,698.17 947.3,704.2"/></clipPath>
<g clip-path="url(#pgbi)"><path d="M1623 147.12L1944.63 704.2M1620.23 147.12L1941.86 704.2M1617.46 147.12L1939.09 704.2M1614.69 147.12L1936.32 704.2M1611.92 147.12L1933.55 704.2M1609.14 147.12L1930.77 704.2M1606.37 147.12L1928 704.2M1603.6 147.12L1925.23 704.2M1600.83 147.12L1922.46 704.2M1598.06 147.12L1919.69 704.2M1595.29 147.12L1916.92 704.2M1592.52 147.12L1914.15 704.2M1589.75 147.12L1911.38 704.2M1586.97 147.12L1908.6 704.2M1584.2 147.12L1905.83 704.2M1581.43 147.12L1903.06 704.2M1578.66 147.12L1900.29 704.2M1575.89 147.12L1897.52 704.2M1573.12 147.12L1894.75 704.2M1570.35 147.12L1891.98 704.2M1567.58 147.12L1889.21 704.2M1564.8 147.12L1886.43 704.2M1562.03 147.12L1883.66 704.2M1559.26 147.12L1880.89 704.2M1556.49 147.12L1878.12 704.2M1553.72 147.12L1875.35 704.2M1550.95 147.12L1872.58 704.2M1548.18 147.12L1869.81 704.2M1545.41 147.12L1867.04 704.2M1542.63 147.12L1864.26 704.2M1539.86 147.12L1861.49 704.2M1537.09 147.12L1858.72 704.2M1534.32 147.12L1855.95 704.2M1531.55 147.12L1853.18 704.2M1528.78 147.12L1850.41 704.2M1526.01 147.12L1847.64 704.2M1523.23 147.12L1844.87 704.2M1520.46 147.12L1842.09 704.2M1517.69 147.12L1839.32 704.2M1514.92 147.12L1836.55 704.2M1512.15 147.12L1833.78 704.2M1509.38 147.12L1831.01 704.2M1506.61 147.12L1828.24 704.2M1503.84 147.12L1825.47 704.2M1501.06 147.12L1822.69 704.2M1498.29 147.12L1819.92 704.2M1495.52 147.12L1817.15 704.2M1492.75 147.12L1814.38 704.2M1489.98 147.12L1811.61 704.2M1487.21 147.12L1808.84 704.2M1484.44 147.12L1806.07 704.2M1481.67 147.12L1803.3 704.2M1478.89 147.12L1800.52 704.2M1476.12 147.12L1797.75 704.2M1473.35 147.12L1794.98 704.2M1470.58 147.12L1792.21 704.2M1467.81 147.12L1789.44 704.2M1465.04 147.12L1786.67 704.2M1462.27 147.12L1783.9 704.2M1459.5 147.12L1781.13 704.2M1456.72 147.12L1778.35 704.2M1453.95 147.12L1775.58 704.2M1451.18 147.12L1772.81 704.2M1448.41 147.12L1770.04 704.2M1445.64 147.12L1767.27 704.2M1442.87 147.12L1764.5 704.2M1440.1 147.12L1761.73 704.2M1437.33 147.12L1758.96 704.2M1434.55 147.12L1756.18 704.2M1431.78 147.12L1753.41 704.2M1429.01 147.12L1750.64 704.2M1426.24 147.12L1747.87 704.2M1423.47 147.12L1745.1 704.2M1420.7 147.12L1742.33 704.2M1417.93 147.12L1739.56 704.2M1415.16 147.12L1736.79 704.2M1412.38 147.12L1734.01 704.2M1409.61 147.12L1731.24 704.2M1406.84 147.12L1728.47 704.2M1404.07 147.12L1725.7 704.2M1401.3 147.12L1722.93 704.2M1398.53 147.12L1720.16 704.2M1395.76 147.12L1717.39 704.2M1392.98 147.12L1714.61 704.2M1390.21 147.12L1711.84 704.2M1387.44 147.12L1709.07 704.2M1384.67 147.12L1706.3 704.2M1381.9 147.12L1703.53 704.2M1379.13 147.12L1700.76 704.2M1376.36 147.12L1697.99 704.2M1373.59 147.12L1695.22 704.2M1370.81 147.12L1692.44 704.2M1368.04 147.12L1689.67 704.2M1365.27 147.12L1686.9 704.2M1362.5 147.12L1684.13 704.2M1359.73 147.12L1681.36 704.2M1356.96 147.12L1678.59 704.2M1354.19 147.12L1675.82 704.2M1351.42 147.12L1673.05 704.2M1348.64 147.12L1670.27 704.2M1345.87 147.12L1667.5 704.2M1343.1 147.12L1664.73 704.2M1340.33 147.12L1661.96 704.2M1337.56 147.12L1659.19 704.2M1334.79 147.12L1656.42 704.2M1332.02 147.12L1653.65 704.2M1329.25 147.12L1650.88 704.2M1326.47 147.12L1648.1 704.2M1323.7 147.12L1645.33 704.2M1320.93 147.12L1642.56 704.2M1318.16 147.12L1639.79 704.2M1315.39 147.12L1637.02 704.2M1312.62 147.12L1634.25 704.2M1309.85 147.12L1631.48 704.2M1307.08 147.12L1628.71 704.2M1304.3 147.12L1625.93 704.2M1301.53 147.12L1623.16 704.2M1298.76 147.12L1620.39 704.2M1295.99 147.12L1617.62 704.2M1293.22 147.12L1614.85 704.2M1290.45 147.12L1612.08 704.2M1287.68 147.12L1609.31 704.2M1284.9 147.12L1606.53 704.2M1282.13 147.12L1603.76 704.2M1279.36 147.12L1600.99 704.2M1276.59 147.12L1598.22 704.2M1273.82 147.12L1595.45 704.2M1271.05 147.12L1592.68 704.2M1268.28 147.12L1589.91 704.2M1265.51 147.12L1587.14 704.2M1262.73 147.12L1584.36 704.2M1259.96 147.12L1581.59 704.2M1257.19 147.12L1578.82 704.2M1254.42 147.12L1576.05 704.2M1251.65 147.12L1573.28 704.2M1248.88 147.12L1570.51 704.2M1246.11 147.12L1567.74 704.2M1243.34 147.12L1564.97 704.2M1240.56 147.12L1562.19 704.2M1237.79 147.12L1559.42 704.2M1235.02 147.12L1556.65 704.2M1232.25 147.12L1553.88 704.2M1229.48 147.12L1551.11 704.2M1226.71 147.12L1548.34 704.2M1223.94 147.12L1545.57 704.2M1221.17 147.12L1542.8 704.2M1218.39 147.12L1540.02 704.2M1215.62 147.12L1537.25 704.2M1212.85 147.12L1534.48 704.2M1210.08 147.12L1531.71 704.2M1207.31 147.12L1528.94 704.2M1204.54 147.12L1526.17 704.2M1201.77 147.12L1523.4 704.2M1199 147.12L1520.63 704.2M1196.22 147.12L1517.85 704.2M1193.45 147.12L1515.08 704.2M1190.68 147.12L1512.31 704.2M1187.91 147.12L1509.54 704.2M1185.14 147.12L1506.77 704.2M1182.37 147.12L1504 704.2M1179.6 147.12L1501.23 704.2M1176.82 147.12L1498.45 704.2M1174.05 147.12L1495.68 704.2M1171.28 147.12L1492.91 704.2M1168.51 147.12L1490.14 704.2M1165.74 147.12L1487.37 704.2M1162.97 147.12L1484.6 704.2M1160.2 147.12L1481.83 704.2M1157.43 147.12L1479.06 704.2M1154.65 147.12L1476.28 704.2M1151.88 147.12L1473.51 704.2M1149.11 147.12L1470.74 704.2M1146.34 147.12L1467.97 704.2M1143.57 147.12L1465.2 704.2M1140.8 147.12L1462.43 704.2M1138.03 147.12L1459.66 704.2M1135.26 147.12L1456.89 704.2M1132.48 147.12L1454.11 704.2M1129.71 147.12L1451.34 704.2M1126.94 147.12L1448.57 704.2M1124.17 147.12L1445.8 704.2M1121.4 147.12L1443.03 704.2M1118.63 147.12L1440.26 704.2M1115.86 147.12L1437.49 704.2M1113.09 147.12L1434.72 704.2M1110.31 147.12L1431.94 704.2M1107.54 147.12L1429.17 704.2M1104.77 147.12L1426.4 704.2M1102 147.12L1423.63 704.2M1099.23 147.12L1420.86 704.2M1096.46 147.12L1418.09 704.2M1093.69 147.12L1415.32 704.2M1090.92 147.12L1412.55 704.2M1088.14 147.12L1409.77 704.2M1085.37 147.12L1407 704.2M1082.6 147.12L1404.23 704.2M1079.83 147.12L1401.46 704.2M1077.06 147.12L1398.69 704.2M1074.29 147.12L1395.92 704.2M1071.52 147.12L1393.15 704.2M1068.74 147.12L1390.37 704.2M1065.97 147.12L1387.6 704.2M1063.2 147.12L1384.83 704.2M1060.43 147.12L1382.06 704.2M1057.66 147.12L1379.29 704.2M1054.89 147.12L1376.52 704.2M1052.12 147.12L1373.75 704.2M1049.35 147.12L1370.98 704.2M1046.57 147.12L1368.2 704.2M1043.8 147.12L1365.43 704.2M1041.03 147.12L1362.66 704.2M1038.26 147.12L1359.89 704.2M1035.49 147.12L1357.12 704.2M1032.72 147.12L1354.35 704.2M1029.95 147.12L1351.58 704.2M1027.18 147.12L1348.81 704.2M1024.4 147.12L1346.03 704.2M1021.63 147.12L1343.26 704.2M1018.86 147.12L1340.49 704.2M1016.09 147.12L1337.72 704.2M1013.32 147.12L1334.95 704.2M1010.55 147.12L1332.18 704.2M1007.78 147.12L1329.41 704.2M1005.01 147.12L1326.64 704.2M1002.23 147.12L1323.86 704.2M999.46 147.12L1321.09 704.2M996.69 147.12L1318.32 704.2M993.92 147.12L1315.55 704.2M991.15 147.12L1312.78 704.2M988.38 147.12L1310.01 704.2M985.61 147.12L1307.24 704.2M982.84 147.12L1304.47 704.2M980.06 147.12L1301.69 704.2M977.29 147.12L1298.92 704.2M974.52 147.12L1296.15 704.2M971.75 147.12L1293.38 704.2M968.98 147.12L1290.61 704.2M966.21 147.12L1287.84 704.2M963.44 147.12L1285.07 704.2M960.66 147.12L1282.29 704.2M957.89 147.12L1279.52 704.2M955.12 147.12L1276.75 704.2M952.35 147.12L1273.98 704.2M949.58 147.12L1271.21 704.2M946.81 147.12L1268.44 704.2M944.04 147.12L1265.67 704.2M941.27 147.12L1262.9 704.2M938.49 147.12L1260.12 704.2M935.72 147.12L1257.35 704.2M932.95 147.12L1254.58 704.2M930.18 147.12L1251.81 704.2M927.41 147.12L1249.04 704.2M924.64 147.12L1246.27 704.2M921.87 147.12L1243.5 704.2M919.1 147.12L1240.73 704.2M916.32 147.12L1237.95 704.2M913.55 147.12L1235.18 704.2M910.78 147.12L1232.41 704.2M908.01 147.12L1229.64 704.2M905.24 147.12L1226.87 704.2M902.47 147.12L1224.1 704.2M899.7 147.12L1221.33 704.2M896.93 147.12L1218.56 704.2M894.15 147.12L1215.78 704.2M891.38 147.12L1213.01 704.2M888.61 147.12L1210.24 704.2M885.84 147.12L1207.47 704.2M883.07 147.12L1204.7 704.2M880.3 147.12L1201.93 704.2M877.53 147.12L1199.16 704.2M874.76 147.12L1196.39 704.2M871.98 147.12L1193.61 704.2M869.21 147.12L1190.84 704.2M866.44 147.12L1188.07 704.2M863.67 147.12L1185.3 704.2M860.9 147.12L1182.53 704.2M858.13 147.12L1179.76 704.2M855.36 147.12L1176.99 704.2M852.58 147.12L1174.21 704.2M849.81 147.12L1171.44 704.2M847.04 147.12L1168.67 704.2M844.27 147.12L1165.9 704.2M841.5 147.12L1163.13 704.2M838.73 147.12L1160.36 704.2M835.96 147.12L1157.59 704.2M833.19 147.12L1154.82 704.2M830.41 147.12L1152.04 704.2M827.64 147.12L1149.27 704.2M824.87 147.12L1146.5 704.2M822.1 147.12L1143.73 704.2M819.33 147.12L1140.96 704.2M816.56 147.12L1138.19 704.2M813.79 147.12L1135.42 704.2M811.02 147.12L1132.65 704.2M808.24 147.12L1129.87 704.2M805.47 147.12L1127.1 704.2M802.7 147.12L1124.33 704.2M799.93 147.12L1121.56 704.2M797.16 147.12L1118.79 704.2M794.39 147.12L1116.02 704.2M791.62 147.12L1113.25 704.2M788.85 147.12L1110.48 704.2M786.07 147.12L1107.7 704.2M783.3 147.12L1104.93 704.2M780.53 147.12L1102.16 704.2M777.76 147.12L1099.39 704.2M774.99 147.12L1096.62 704.2M772.22 147.12L1093.85 704.2M769.45 147.12L1091.08 704.2M766.68 147.12L1088.31 704.2M763.9 147.12L1085.53 704.2M761.13 147.12L1082.76 704.2M758.36 147.12L1079.99 704.2M755.59 147.12L1077.22 704.2M752.82 147.12L1074.45 704.2M750.05 147.12L1071.68 704.2M747.28 147.12L1068.91 704.2M744.5 147.12L1066.14 704.2M741.73 147.12L1063.36 704.2M738.96 147.12L1060.59 704.2M736.19 147.12L1057.82 704.2M733.42 147.12L1055.05 704.2M730.65 147.12L1052.28 704.2M727.88 147.12L1049.51 704.2M725.11 147.12L1046.74 704.2M722.33 147.12L1043.96 704.2M719.56 147.12L1041.19 704.2M716.79 147.12L1038.42 704.2M714.02 147.12L1035.65 704.2M711.25 147.12L1032.88 704.2M708.48 147.12L1030.11 704.2M705.71 147.12L1027.34 704.2M702.94 147.12L1024.57 704.2M700.16 147.12L1021.79 704.2M697.39 147.12L1019.02 704.2M694.62 147.12L1016.25 704.2M691.85 147.12L1013.48 704.2M689.08 147.12L1010.71 704.2M686.31 147.12L1007.94 704.2M683.54 147.12L1005.17 704.2M680.77 147.12L1002.4 704.2M677.99 147.12L999.62 704.2M675.22 147.12L996.85 704.2M672.45 147.12L994.08 704.2M669.68 147.12L991.31 704.2M666.91 147.12L988.54 704.2M664.14 147.12L985.77 704.2M661.37 147.12L983 704.2M658.6 147.12L980.23 704.2M655.82 147.12L977.45 704.2M653.05 147.12L974.68 704.2M650.28 147.12L971.91 704.2M647.51 147.12L969.14 704.2M644.74 147.12L966.37 704.2M641.97 147.12L963.6 704.2M639.2 147.12L960.83 704.2M636.42 147.12L958.06 704.2M633.65 147.12L955.28 704.2M630.88 147.12L952.51 704.2M628.11 147.12L949.74 704.2" stroke="#000" stroke-width="0.75" fill="none"/></g>
<polygon points="947.3,704.2 958.87,682.5 982.02,657.17 1022.53,616.48 1086.19,566.5 1155.63,519.29 1306.09,396.72 1624.38,147.12 1624.38,363.08 1306.09,498.01 1155.63,588.02 1086.19,627.09 1022.53,666.46 982.02,685.09 958.87,698.17 947.3,704.2" fill="none" stroke="#000" stroke-width="0.75" stroke-linejoin="round"/>
<polyline points="947.3,704.2 958.87,693.05 982.02,676.71 1022.53,648.73 1086.19,602.31 1155.63,560.11 1306.09,453.39 1624.38,267.7" fill="none" stroke="#000" stroke-width="4.5" stroke-linejoin="round" stroke-linecap="butt"/>
</g>
<rect x="921.8" y="14.5" width="687.7" height="716.5" fill="none" stroke="#000" stroke-width="0.75"/>
<path d="M947.3 731H1583.87M921.8 704.2V41.01M947.3 731v7.2M921.8 704.2h-7.2M1005.17 731v7.2M921.8 643.91h-7.2M1063.04 731v7.2M921.8 583.62h-7.2M1120.91 731v7.2M921.8 523.33h-7.2M1178.78 731v7.2M921.8 463.04h-7.2M1236.65 731v7.2M921.8 402.75h-7.2M1294.52 731v7.2M921.8 342.46h-7.2M1352.39 731v7.2M921.8 282.17h-7.2M1410.26 731v7.2M921.8 221.88h-7.2M1468.13 731v7.2M921.8 161.59h-7.2M1526 731v7.2M921.8 101.3h-7.2M1583.87 731v7.2M921.8 41.01h-7.2" stroke="#000" stroke-width="0.75" fill="none"/>
<text transform="translate(939.77 756.7) scale(1.0700 1)" style="font-family:'Liberation Sans',sans-serif;font-size:25.7px">0</text>
<text transform="translate(997.26 756.7) scale(1.0700 1)" style="font-family:'Liberation Sans',sans-serif;font-size:25.7px">1</text>
<text transform="translate(1055.47 756.7) scale(1.0700 1)" style="font-family:'Liberation Sans',sans-serif;font-size:25.7px">2</text>
<text transform="translate(1113.45 756.7) scale(1.0700 1)" style="font-family:'Liberation Sans',sans-serif;font-size:25.7px">3</text>
<text transform="translate(1171.32 756.7) scale(1.0700 1)" style="font-family:'Liberation Sans',sans-serif;font-size:25.7px">4</text>
<text transform="translate(1229.12 756.7) scale(1.0700 1)" style="font-family:'Liberation Sans',sans-serif;font-size:25.7px">5</text>
<text transform="translate(1286.89 756.7) scale(1.0700 1)" style="font-family:'Liberation Sans',sans-serif;font-size:25.7px">6</text>
<text transform="translate(1344.82 756.7) scale(1.0700 1)" style="font-family:'Liberation Sans',sans-serif;font-size:25.7px">7</text>
<text transform="translate(1402.73 756.7) scale(1.0700 1)" style="font-family:'Liberation Sans',sans-serif;font-size:25.7px">8</text>
<text transform="translate(1460.56 756.7) scale(1.0700 1)" style="font-family:'Liberation Sans',sans-serif;font-size:25.7px">9</text>
<text transform="translate(1510.32 756.7) scale(1.0700 1)" style="font-family:'Liberation Sans',sans-serif;font-size:25.7px">10</text>
<text transform="translate(1569.33 756.7) scale(1.0700 1)" style="font-family:'Liberation Sans',sans-serif;font-size:25.7px">11</text>
<text transform="translate(891.67 712.9) scale(1.0700 1)" style="font-family:'Liberation Sans',sans-serif;font-size:25.7px">0</text>
<text transform="translate(891.94 652.61) scale(1.0700 1)" style="font-family:'Liberation Sans',sans-serif;font-size:25.7px">1</text>
<text transform="translate(891.94 592.32) scale(1.0700 1)" style="font-family:'Liberation Sans',sans-serif;font-size:25.7px">2</text>
<text transform="translate(891.81 532.03) scale(1.0700 1)" style="font-family:'Liberation Sans',sans-serif;font-size:25.7px">3</text>
<text transform="translate(891.39 471.74) scale(1.0700 1)" style="font-family:'Liberation Sans',sans-serif;font-size:25.7px">4</text>
<text transform="translate(891.74 411.45) scale(1.0700 1)" style="font-family:'Liberation Sans',sans-serif;font-size:25.7px">5</text>
<text transform="translate(891.81 351.16) scale(1.0700 1)" style="font-family:'Liberation Sans',sans-serif;font-size:25.7px">6</text>
<text transform="translate(891.94 290.87) scale(1.0700 1)" style="font-family:'Liberation Sans',sans-serif;font-size:25.7px">7</text>
<text transform="translate(891.81 230.58) scale(1.0700 1)" style="font-family:'Liberation Sans',sans-serif;font-size:25.7px">8</text>
<text transform="translate(891.88 170.29) scale(1.0700 1)" style="font-family:'Liberation Sans',sans-serif;font-size:25.7px">9</text>
<text transform="translate(876.41 110) scale(1.0700 1)" style="font-family:'Liberation Sans',sans-serif;font-size:25.7px">10</text>
<text transform="translate(878.68 49.71) scale(1.0700 1)" style="font-family:'Liberation Sans',sans-serif;font-size:25.7px">11</text>
<text transform="translate(874.3 493.08) rotate(-90) scale(1.0200 1)" style="font-family:'Liberation Sans',sans-serif;font-size:32.8px">Analysis (mm/h)</text>
<text transform="translate(807.14 62) scale(0.9923 1)" style="font-family:'Liberation Sans',sans-serif;font-size:59px">(b)</text>
</g>
<g id="panel-c">
<text transform="translate(121.52 969.5) scale(1.0897 1)" style="font-family:'Liberation Sans',sans-serif;font-size:27.6px">Ang.</text>
<text transform="translate(186.59 969.5) scale(1.0942 1)" style="font-family:'Liberation Sans',sans-serif;font-size:27.6px">Coeff.</text>
<text transform="translate(268.59 969.5) scale(1.1520 1)" style="font-family:'Liberation Sans',sans-serif;font-size:27.6px">=</text>
<text transform="translate(291.07 969.5) scale(1.0870 1)" style="font-family:'Liberation Sans',sans-serif;font-size:27.6px">0.77</text>
<clipPath id="clipc"><rect x="121.8" y="814.5" width="687.7" height="716.5"/></clipPath>
<g clip-path="url(#clipc)">
<path d="M121.8 1530.77L818.59 804.84" stroke="#000" stroke-width="3.75" stroke-dasharray="15 15" stroke-dashoffset="9" stroke-linecap="round" fill="none"/>
<path d="M147.3 814.5V1531M121.8 1504.2H809.5" stroke="#cacaca" stroke-width="3" fill="none"/>
<clipPath id="pgco"><polygon points="147.3,1504.2 158.87,1484.3 182.02,1451.14 222.53,1411.72 286.19,1361.8 355.63,1321.28 506.09,1200.34 824.38,891.77 824.38,1015.25 506.09,1257.61 355.63,1365.89 286.19,1409.97 222.53,1451.08 182.02,1480.39 158.87,1495.82 147.3,1504.2"/></clipPath>
<g clip-path="url(#pgco)"><path d="M150.24 891.77L-203.34 1504.2M154.4 891.77L-199.19 1504.2M158.56 891.77L-195.03 1504.2M162.71 891.77L-190.87 1504.2M166.87 891.77L-186.72 1504.2M171.03 891.77L-182.56 1504.2M175.18 891.77L-178.4 1504.2M179.34 891.77L-174.24 1504.2M183.5 891.77L-170.09 1504.2M187.65 891.77L-165.93 1504.2M191.81 891.77L-161.77 1504.2M195.97 891.77L-157.62 1504.2M200.12 891.77L-153.46 1504.2M204.28 891.77L-149.3 1504.2M208.44 891.77L-145.15 1504.2M212.6 891.77L-140.99 1504.2M216.75 891.77L-136.83 1504.2M220.91 891.77L-132.68 1504.2M225.07 891.77L-128.52 1504.2M229.22 891.77L-124.36 1504.2M233.38 891.77L-120.2 1504.2M237.54 891.77L-116.05 1504.2M241.69 891.77L-111.89 1504.2M245.85 891.77L-107.73 1504.2M250.01 891.77L-103.58 1504.2M254.16 891.77L-99.42 1504.2M258.32 891.77L-95.26 1504.2M262.48 891.77L-91.11 1504.2M266.64 891.77L-86.95 1504.2M270.79 891.77L-82.79 1504.2M274.95 891.77L-78.64 1504.2M279.11 891.77L-74.48 1504.2M283.26 891.77L-70.32 1504.2M287.42 891.77L-66.16 1504.2M291.58 891.77L-62.01 1504.2M295.73 891.77L-57.85 1504.2M299.89 891.77L-53.69 1504.2M304.05 891.77L-49.54 1504.2M308.2 891.77L-45.38 1504.2M312.36 891.77L-41.22 1504.2M316.52 891.77L-37.07 1504.2M320.68 891.77L-32.91 1504.2M324.83 891.77L-28.75 1504.2M328.99 891.77L-24.6 1504.2M333.15 891.77L-20.44 1504.2M337.3 891.77L-16.28 1504.2M341.46 891.77L-12.12 1504.2M345.62 891.77L-7.97 1504.2M349.77 891.77L-3.81 1504.2M353.93 891.77L0.35 1504.2M358.09 891.77L4.5 1504.2M362.24 891.77L8.66 1504.2M366.4 891.77L12.82 1504.2M370.56 891.77L16.97 1504.2M374.72 891.77L21.13 1504.2M378.87 891.77L25.29 1504.2M383.03 891.77L29.44 1504.2M387.19 891.77L33.6 1504.2M391.34 891.77L37.76 1504.2M395.5 891.77L41.92 1504.2M399.66 891.77L46.07 1504.2M403.81 891.77L50.23 1504.2M407.97 891.77L54.39 1504.2M412.13 891.77L58.54 1504.2M416.28 891.77L62.7 1504.2M420.44 891.77L66.86 1504.2M424.6 891.77L71.01 1504.2M428.76 891.77L75.17 1504.2M432.91 891.77L79.33 1504.2M437.07 891.77L83.48 1504.2M441.23 891.77L87.64 1504.2M445.38 891.77L91.8 1504.2M449.54 891.77L95.96 1504.2M453.7 891.77L100.11 1504.2M457.85 891.77L104.27 1504.2M462.01 891.77L108.43 1504.2M466.17 891.77L112.58 1504.2M470.32 891.77L116.74 1504.2M474.48 891.77L120.9 1504.2M478.64 891.77L125.05 1504.2M482.8 891.77L129.21 1504.2M486.95 891.77L133.37 1504.2M491.11 891.77L137.52 1504.2M495.27 891.77L141.68 1504.2M499.42 891.77L145.84 1504.2M503.58 891.77L150 1504.2M507.74 891.77L154.15 1504.2M511.89 891.77L158.31 1504.2M516.05 891.77L162.47 1504.2M520.21 891.77L166.62 1504.2M524.36 891.77L170.78 1504.2M528.52 891.77L174.94 1504.2M532.68 891.77L179.09 1504.2M536.84 891.77L183.25 1504.2M540.99 891.77L187.41 1504.2M545.15 891.77L191.56 1504.2M549.31 891.77L195.72 1504.2M553.46 891.77L199.88 1504.2M557.62 891.77L204.04 1504.2M561.78 891.77L208.19 1504.2M565.93 891.77L212.35 1504.2M570.09 891.77L216.51 1504.2M574.25 891.77L220.66 1504.2M578.4 891.77L224.82 1504.2M582.56 891.77L228.98 1504.2M586.72 891.77L233.13 1504.2M590.88 891.77L237.29 1504.2M595.03 891.77L241.45 1504.2M599.19 891.77L245.6 1504.2M603.35 891.77L249.76 1504.2M607.5 891.77L253.92 1504.2M611.66 891.77L258.08 1504.2M615.82 891.77L262.23 1504.2M619.97 891.77L266.39 1504.2M624.13 891.77L270.55 1504.2M628.29 891.77L274.7 1504.2M632.44 891.77L278.86 1504.2M636.6 891.77L283.02 1504.2M640.76 891.77L287.17 1504.2M644.92 891.77L291.33 1504.2M649.07 891.77L295.49 1504.2M653.23 891.77L299.64 1504.2M657.39 891.77L303.8 1504.2M661.54 891.77L307.96 1504.2M665.7 891.77L312.12 1504.2M669.86 891.77L316.27 1504.2M674.01 891.77L320.43 1504.2M678.17 891.77L324.59 1504.2M682.33 891.77L328.74 1504.2M686.48 891.77L332.9 1504.2M690.64 891.77L337.06 1504.2M694.8 891.77L341.21 1504.2M698.96 891.77L345.37 1504.2M703.11 891.77L349.53 1504.2M707.27 891.77L353.68 1504.2M711.43 891.77L357.84 1504.2M715.58 891.77L362 1504.2M719.74 891.77L366.16 1504.2M723.9 891.77L370.31 1504.2M728.05 891.77L374.47 1504.2M732.21 891.77L378.63 1504.2M736.37 891.77L382.78 1504.2M740.52 891.77L386.94 1504.2M744.68 891.77L391.1 1504.2M748.84 891.77L395.25 1504.2M753 891.77L399.41 1504.2M757.15 891.77L403.57 1504.2M761.31 891.77L407.72 1504.2M765.47 891.77L411.88 1504.2M769.62 891.77L416.04 1504.2M773.78 891.77L420.2 1504.2M777.94 891.77L424.35 1504.2M782.09 891.77L428.51 1504.2M786.25 891.77L432.67 1504.2M790.41 891.77L436.82 1504.2M794.56 891.77L440.98 1504.2M798.72 891.77L445.14 1504.2M802.88 891.77L449.29 1504.2M807.04 891.77L453.45 1504.2M811.19 891.77L457.61 1504.2M815.35 891.77L461.76 1504.2M819.51 891.77L465.92 1504.2M823.66 891.77L470.08 1504.2M827.82 891.77L474.24 1504.2M831.98 891.77L478.39 1504.2M836.13 891.77L482.55 1504.2M840.29 891.77L486.71 1504.2M844.45 891.77L490.86 1504.2M848.6 891.77L495.02 1504.2M852.76 891.77L499.18 1504.2M856.92 891.77L503.33 1504.2M861.08 891.77L507.49 1504.2M865.23 891.77L511.65 1504.2M869.39 891.77L515.8 1504.2M873.55 891.77L519.96 1504.2M877.7 891.77L524.12 1504.2M881.86 891.77L528.28 1504.2M886.02 891.77L532.43 1504.2M890.17 891.77L536.59 1504.2M894.33 891.77L540.75 1504.2M898.49 891.77L544.9 1504.2M902.64 891.77L549.06 1504.2M906.8 891.77L553.22 1504.2M910.96 891.77L557.37 1504.2M915.12 891.77L561.53 1504.2M919.27 891.77L565.69 1504.2M923.43 891.77L569.84 1504.2M927.59 891.77L574 1504.2M931.74 891.77L578.16 1504.2M935.9 891.77L582.32 1504.2M940.06 891.77L586.47 1504.2M944.21 891.77L590.63 1504.2M948.37 891.77L594.79 1504.2M952.53 891.77L598.94 1504.2M956.68 891.77L603.1 1504.2M960.84 891.77L607.26 1504.2M965 891.77L611.41 1504.2M969.16 891.77L615.57 1504.2M973.31 891.77L619.73 1504.2M977.47 891.77L623.88 1504.2M981.63 891.77L628.04 1504.2M985.78 891.77L632.2 1504.2M989.94 891.77L636.36 1504.2M994.1 891.77L640.51 1504.2M998.25 891.77L644.67 1504.2M1002.41 891.77L648.83 1504.2M1006.57 891.77L652.98 1504.2M1010.72 891.77L657.14 1504.2M1014.88 891.77L661.3 1504.2M1019.04 891.77L665.45 1504.2M1023.2 891.77L669.61 1504.2M1027.35 891.77L673.77 1504.2M1031.51 891.77L677.92 1504.2M1035.67 891.77L682.08 1504.2M1039.82 891.77L686.24 1504.2M1043.98 891.77L690.4 1504.2M1048.14 891.77L694.55 1504.2M1052.29 891.77L698.71 1504.2M1056.45 891.77L702.87 1504.2M1060.61 891.77L707.02 1504.2M1064.76 891.77L711.18 1504.2M1068.92 891.77L715.34 1504.2M1073.08 891.77L719.49 1504.2M1077.24 891.77L723.65 1504.2M1081.39 891.77L727.81 1504.2M1085.55 891.77L731.96 1504.2M1089.71 891.77L736.12 1504.2M1093.86 891.77L740.28 1504.2M1098.02 891.77L744.44 1504.2M1102.18 891.77L748.59 1504.2M1106.33 891.77L752.75 1504.2M1110.49 891.77L756.91 1504.2M1114.65 891.77L761.06 1504.2M1118.8 891.77L765.22 1504.2M1122.96 891.77L769.38 1504.2M1127.12 891.77L773.53 1504.2M1131.28 891.77L777.69 1504.2M1135.43 891.77L781.85 1504.2M1139.59 891.77L786 1504.2M1143.75 891.77L790.16 1504.2M1147.9 891.77L794.32 1504.2M1152.06 891.77L798.48 1504.2M1156.22 891.77L802.63 1504.2M1160.37 891.77L806.79 1504.2M1164.53 891.77L810.95 1504.2M1168.69 891.77L815.1 1504.2M1172.84 891.77L819.26 1504.2M1177 891.77L823.42 1504.2" stroke="#000" stroke-width="0.75" fill="none"/></g>
<polygon points="147.3,1504.2 158.87,1484.3 182.02,1451.14 222.53,1411.72 286.19,1361.8 355.63,1321.28 506.09,1200.34 824.38,891.77 824.38,1015.25 506.09,1257.61 355.63,1365.89 286.19,1409.97 222.53,1451.08 182.02,1480.39 158.87,1495.82 147.3,1504.2" fill="none" stroke="#000" stroke-width="0.75" stroke-linejoin="round"/>
<clipPath id="pgci"><polygon points="147.3,1504.2 158.87,1487.32 182.02,1460.43 222.53,1427.15 286.19,1375.96 355.63,1333.52 506.09,1214.81 824.38,924.33 824.38,989.26 506.09,1245.56 355.63,1355.89 286.19,1401.53 222.53,1444.15 182.02,1474.78 158.87,1494.25 147.3,1504.2"/></clipPath>
<g clip-path="url(#pgci)"><path d="M821.88 924.33L1156.66 1504.2M819.1 924.33L1153.89 1504.2M816.33 924.33L1151.12 1504.2M813.56 924.33L1148.35 1504.2M810.79 924.33L1145.58 1504.2M808.02 924.33L1142.81 1504.2M805.25 924.33L1140.04 1504.2M802.48 924.33L1137.26 1504.2M799.71 924.33L1134.49 1504.2M796.93 924.33L1131.72 1504.2M794.16 924.33L1128.95 1504.2M791.39 924.33L1126.18 1504.2M788.62 924.33L1123.41 1504.2M785.85 924.33L1120.64 1504.2M783.08 924.33L1117.87 1504.2M780.31 924.33L1115.09 1504.2M777.54 924.33L1112.32 1504.2M774.76 924.33L1109.55 1504.2M771.99 924.33L1106.78 1504.2M769.22 924.33L1104.01 1504.2M766.45 924.33L1101.24 1504.2M763.68 924.33L1098.47 1504.2M760.91 924.33L1095.7 1504.2M758.14 924.33L1092.92 1504.2M755.37 924.33L1090.15 1504.2M752.59 924.33L1087.38 1504.2M749.82 924.33L1084.61 1504.2M747.05 924.33L1081.84 1504.2M744.28 924.33L1079.07 1504.2M741.51 924.33L1076.3 1504.2M738.74 924.33L1073.53 1504.2M735.97 924.33L1070.75 1504.2M733.19 924.33L1067.98 1504.2M730.42 924.33L1065.21 1504.2M727.65 924.33L1062.44 1504.2M724.88 924.33L1059.67 1504.2M722.11 924.33L1056.9 1504.2M719.34 924.33L1054.13 1504.2M716.57 924.33L1051.35 1504.2M713.8 924.33L1048.58 1504.2M711.02 924.33L1045.81 1504.2M708.25 924.33L1043.04 1504.2M705.48 924.33L1040.27 1504.2M702.71 924.33L1037.5 1504.2M699.94 924.33L1034.73 1504.2M697.17 924.33L1031.96 1504.2M694.4 924.33L1029.18 1504.2M691.63 924.33L1026.41 1504.2M688.85 924.33L1023.64 1504.2M686.08 924.33L1020.87 1504.2M683.31 924.33L1018.1 1504.2M680.54 924.33L1015.33 1504.2M677.77 924.33L1012.56 1504.2M675 924.33L1009.79 1504.2M672.23 924.33L1007.01 1504.2M669.46 924.33L1004.24 1504.2M666.68 924.33L1001.47 1504.2M663.91 924.33L998.7 1504.2M661.14 924.33L995.93 1504.2M658.37 924.33L993.16 1504.2M655.6 924.33L990.39 1504.2M652.83 924.33L987.62 1504.2M650.06 924.33L984.84 1504.2M647.29 924.33L982.07 1504.2M644.51 924.33L979.3 1504.2M641.74 924.33L976.53 1504.2M638.97 924.33L973.76 1504.2M636.2 924.33L970.99 1504.2M633.43 924.33L968.22 1504.2M630.66 924.33L965.45 1504.2M627.89 924.33L962.67 1504.2M625.11 924.33L959.9 1504.2M622.34 924.33L957.13 1504.2M619.57 924.33L954.36 1504.2M616.8 924.33L951.59 1504.2M614.03 924.33L948.82 1504.2M611.26 924.33L946.05 1504.2M608.49 924.33L943.27 1504.2M605.72 924.33L940.5 1504.2M602.94 924.33L937.73 1504.2M600.17 924.33L934.96 1504.2M597.4 924.33L932.19 1504.2M594.63 924.33L929.42 1504.2M591.86 924.33L926.65 1504.2M589.09 924.33L923.88 1504.2M586.32 924.33L921.1 1504.2M583.55 924.33L918.33 1504.2M580.77 924.33L915.56 1504.2M578 924.33L912.79 1504.2M575.23 924.33L910.02 1504.2M572.46 924.33L907.25 1504.2M569.69 924.33L904.48 1504.2M566.92 924.33L901.71 1504.2M564.15 924.33L898.93 1504.2M561.38 924.33L896.16 1504.2M558.6 924.33L893.39 1504.2M555.83 924.33L890.62 1504.2M553.06 924.33L887.85 1504.2M550.29 924.33L885.08 1504.2M547.52 924.33L882.31 1504.2M544.75 924.33L879.54 1504.2M541.98 924.33L876.76 1504.2M539.21 924.33L873.99 1504.2M536.43 924.33L871.22 1504.2M533.66 924.33L868.45 1504.2M530.89 924.33L865.68 1504.2M528.12 924.33L862.91 1504.2M525.35 924.33L860.14 1504.2M522.58 924.33L857.37 1504.2M519.81 924.33L854.59 1504.2M517.03 924.33L851.82 1504.2M514.26 924.33L849.05 1504.2M511.49 924.33L846.28 1504.2M508.72 924.33L843.51 1504.2M505.95 924.33L840.74 1504.2M503.18 924.33L837.97 1504.2M500.41 924.33L835.19 1504.2M497.64 924.33L832.42 1504.2M494.86 924.33L829.65 1504.2M492.09 924.33L826.88 1504.2M489.32 924.33L824.11 1504.2M486.55 924.33L821.34 1504.2M483.78 924.33L818.57 1504.2M481.01 924.33L815.8 1504.2M478.24 924.33L813.02 1504.2M475.47 924.33L810.25 1504.2M472.69 924.33L807.48 1504.2M469.92 924.33L804.71 1504.2M467.15 924.33L801.94 1504.2M464.38 924.33L799.17 1504.2M461.61 924.33L796.4 1504.2M458.84 924.33L793.63 1504.2M456.07 924.33L790.85 1504.2M453.3 924.33L788.08 1504.2M450.52 924.33L785.31 1504.2M447.75 924.33L782.54 1504.2M444.98 924.33L779.77 1504.2M442.21 924.33L777 1504.2M439.44 924.33L774.23 1504.2M436.67 924.33L771.46 1504.2M433.9 924.33L768.68 1504.2M431.13 924.33L765.91 1504.2M428.35 924.33L763.14 1504.2M425.58 924.33L760.37 1504.2M422.81 924.33L757.6 1504.2M420.04 924.33L754.83 1504.2M417.27 924.33L752.06 1504.2M414.5 924.33L749.29 1504.2M411.73 924.33L746.51 1504.2M408.95 924.33L743.74 1504.2M406.18 924.33L740.97 1504.2M403.41 924.33L738.2 1504.2M400.64 924.33L735.43 1504.2M397.87 924.33L732.66 1504.2M395.1 924.33L729.89 1504.2M392.33 924.33L727.11 1504.2M389.56 924.33L724.34 1504.2M386.78 924.33L721.57 1504.2M384.01 924.33L718.8 1504.2M381.24 924.33L716.03 1504.2M378.47 924.33L713.26 1504.2M375.7 924.33L710.49 1504.2M372.93 924.33L707.72 1504.2M370.16 924.33L704.94 1504.2M367.39 924.33L702.17 1504.2M364.61 924.33L699.4 1504.2M361.84 924.33L696.63 1504.2M359.07 924.33L693.86 1504.2M356.3 924.33L691.09 1504.2M353.53 924.33L688.32 1504.2M350.76 924.33L685.55 1504.2M347.99 924.33L682.77 1504.2M345.22 924.33L680 1504.2M342.44 924.33L677.23 1504.2M339.67 924.33L674.46 1504.2M336.9 924.33L671.69 1504.2M334.13 924.33L668.92 1504.2M331.36 924.33L666.15 1504.2M328.59 924.33L663.38 1504.2M325.82 924.33L660.6 1504.2M323.05 924.33L657.83 1504.2M320.27 924.33L655.06 1504.2M317.5 924.33L652.29 1504.2M314.73 924.33L649.52 1504.2M311.96 924.33L646.75 1504.2M309.19 924.33L643.98 1504.2M306.42 924.33L641.21 1504.2M303.65 924.33L638.43 1504.2M300.87 924.33L635.66 1504.2M298.1 924.33L632.89 1504.2M295.33 924.33L630.12 1504.2M292.56 924.33L627.35 1504.2M289.79 924.33L624.58 1504.2M287.02 924.33L621.81 1504.2M284.25 924.33L619.03 1504.2M281.48 924.33L616.26 1504.2M278.7 924.33L613.49 1504.2M275.93 924.33L610.72 1504.2M273.16 924.33L607.95 1504.2M270.39 924.33L605.18 1504.2M267.62 924.33L602.41 1504.2M264.85 924.33L599.64 1504.2M262.08 924.33L596.86 1504.2M259.31 924.33L594.09 1504.2M256.53 924.33L591.32 1504.2M253.76 924.33L588.55 1504.2M250.99 924.33L585.78 1504.2M248.22 924.33L583.01 1504.2M245.45 924.33L580.24 1504.2M242.68 924.33L577.47 1504.2M239.91 924.33L574.69 1504.2M237.14 924.33L571.92 1504.2M234.36 924.33L569.15 1504.2M231.59 924.33L566.38 1504.2M228.82 924.33L563.61 1504.2M226.05 924.33L560.84 1504.2M223.28 924.33L558.07 1504.2M220.51 924.33L555.3 1504.2M217.74 924.33L552.52 1504.2M214.97 924.33L549.75 1504.2M212.19 924.33L546.98 1504.2M209.42 924.33L544.21 1504.2M206.65 924.33L541.44 1504.2M203.88 924.33L538.67 1504.2M201.11 924.33L535.9 1504.2M198.34 924.33L533.13 1504.2M195.57 924.33L530.35 1504.2M192.8 924.33L527.58 1504.2M190.02 924.33L524.81 1504.2M187.25 924.33L522.04 1504.2M184.48 924.33L519.27 1504.2M181.71 924.33L516.5 1504.2M178.94 924.33L513.73 1504.2M176.17 924.33L510.95 1504.2M173.4 924.33L508.18 1504.2M170.62 924.33L505.41 1504.2M167.85 924.33L502.64 1504.2M165.08 924.33L499.87 1504.2M162.31 924.33L497.1 1504.2M159.54 924.33L494.33 1504.2M156.77 924.33L491.56 1504.2M154 924.33L488.78 1504.2M151.23 924.33L486.01 1504.2M148.45 924.33L483.24 1504.2M145.68 924.33L480.47 1504.2M142.91 924.33L477.7 1504.2M140.14 924.33L474.93 1504.2M137.37 924.33L472.16 1504.2M134.6 924.33L469.39 1504.2M131.83 924.33L466.61 1504.2M129.06 924.33L463.84 1504.2M126.28 924.33L461.07 1504.2M123.51 924.33L458.3 1504.2M120.74 924.33L455.53 1504.2M117.97 924.33L452.76 1504.2M115.2 924.33L449.99 1504.2M112.43 924.33L447.22 1504.2M109.66 924.33L444.44 1504.2M106.89 924.33L441.67 1504.2M104.11 924.33L438.9 1504.2M101.34 924.33L436.13 1504.2M98.57 924.33L433.36 1504.2M95.8 924.33L430.59 1504.2M93.03 924.33L427.82 1504.2M90.26 924.33L425.05 1504.2M87.49 924.33L422.27 1504.2M84.72 924.33L419.5 1504.2M81.94 924.33L416.73 1504.2M79.17 924.33L413.96 1504.2M76.4 924.33L411.19 1504.2M73.63 924.33L408.42 1504.2M70.86 924.33L405.65 1504.2M68.09 924.33L402.88 1504.2M65.32 924.33L400.1 1504.2M62.54 924.33L397.33 1504.2M59.77 924.33L394.56 1504.2M57 924.33L391.79 1504.2M54.23 924.33L389.02 1504.2M51.46 924.33L386.25 1504.2M48.69 924.33L383.48 1504.2M45.92 924.33L380.7 1504.2M43.15 924.33L377.93 1504.2M40.37 924.33L375.16 1504.2M37.6 924.33L372.39 1504.2M34.83 924.33L369.62 1504.2M32.06 924.33L366.85 1504.2M29.29 924.33L364.08 1504.2M26.52 924.33L361.31 1504.2M23.75 924.33L358.53 1504.2M20.98 924.33L355.76 1504.2M18.2 924.33L352.99 1504.2M15.43 924.33L350.22 1504.2M12.66 924.33L347.45 1504.2M9.89 924.33L344.68 1504.2M7.12 924.33L341.91 1504.2M4.35 924.33L339.14 1504.2M1.58 924.33L336.36 1504.2M-1.19 924.33L333.59 1504.2M-3.97 924.33L330.82 1504.2M-6.74 924.33L328.05 1504.2M-9.51 924.33L325.28 1504.2M-12.28 924.33L322.51 1504.2M-15.05 924.33L319.74 1504.2M-17.82 924.33L316.97 1504.2M-20.59 924.33L314.19 1504.2M-23.36 924.33L311.42 1504.2M-26.14 924.33L308.65 1504.2M-28.91 924.33L305.88 1504.2M-31.68 924.33L303.11 1504.2M-34.45 924.33L300.34 1504.2M-37.22 924.33L297.57 1504.2M-39.99 924.33L294.8 1504.2M-42.76 924.33L292.02 1504.2M-45.54 924.33L289.25 1504.2M-48.31 924.33L286.48 1504.2M-51.08 924.33L283.71 1504.2M-53.85 924.33L280.94 1504.2M-56.62 924.33L278.17 1504.2M-59.39 924.33L275.4 1504.2M-62.16 924.33L272.62 1504.2M-64.93 924.33L269.85 1504.2M-67.71 924.33L267.08 1504.2M-70.48 924.33L264.31 1504.2M-73.25 924.33L261.54 1504.2M-76.02 924.33L258.77 1504.2M-78.79 924.33L256 1504.2M-81.56 924.33L253.23 1504.2M-84.33 924.33L250.45 1504.2M-87.1 924.33L247.68 1504.2M-89.88 924.33L244.91 1504.2M-92.65 924.33L242.14 1504.2M-95.42 924.33L239.37 1504.2M-98.19 924.33L236.6 1504.2M-100.96 924.33L233.83 1504.2M-103.73 924.33L231.06 1504.2M-106.5 924.33L228.28 1504.2M-109.27 924.33L225.51 1504.2M-112.05 924.33L222.74 1504.2M-114.82 924.33L219.97 1504.2M-117.59 924.33L217.2 1504.2M-120.36 924.33L214.43 1504.2M-123.13 924.33L211.66 1504.2M-125.9 924.33L208.89 1504.2M-128.67 924.33L206.11 1504.2M-131.44 924.33L203.34 1504.2M-134.22 924.33L200.57 1504.2M-136.99 924.33L197.8 1504.2M-139.76 924.33L195.03 1504.2M-142.53 924.33L192.26 1504.2M-145.3 924.33L189.49 1504.2M-148.07 924.33L186.72 1504.2M-150.84 924.33L183.94 1504.2M-153.62 924.33L181.17 1504.2M-156.39 924.33L178.4 1504.2M-159.16 924.33L175.63 1504.2M-161.93 924.33L172.86 1504.2M-164.7 924.33L170.09 1504.2M-167.47 924.33L167.32 1504.2M-170.24 924.33L164.54 1504.2M-173.01 924.33L161.77 1504.2M-175.79 924.33L159 1504.2M-178.56 924.33L156.23 1504.2M-181.33 924.33L153.46 1504.2M-184.1 924.33L150.69 1504.2M-186.87 924.33L147.92 1504.2" stroke="#000" stroke-width="0.75" fill="none"/></g>
<polygon points="147.3,1504.2 158.87,1487.32 182.02,1460.43 222.53,1427.15 286.19,1375.96 355.63,1333.52 506.09,1214.81 824.38,924.33 824.38,989.26 506.09,1245.56 355.63,1355.89 286.19,1401.53 222.53,1444.15 182.02,1474.78 158.87,1494.25 147.3,1504.2" fill="none" stroke="#000" stroke-width="0.75" stroke-linejoin="round"/>
<polyline points="147.3,1504.2 158.87,1491.06 182.02,1467.78 222.53,1436.74 286.19,1390.61 355.63,1344.97 506.09,1230.78 824.38,956.77" fill="none" stroke="#000" stroke-width="4.5" stroke-linejoin="round" stroke-linecap="butt"/>
</g>
<rect x="121.8" y="814.5" width="687.7" height="716.5" fill="none" stroke="#000" stroke-width="0.75"/>
<path d="M147.3 1531H783.87M121.8 1504.2V841.01M147.3 1531v7.2M121.8 1504.2h-7.2M205.17 1531v7.2M121.8 1443.91h-7.2M263.04 1531v7.2M121.8 1383.62h-7.2M320.91 1531v7.2M121.8 1323.33h-7.2M378.78 1531v7.2M121.8 1263.04h-7.2M436.65 1531v7.2M121.8 1202.75h-7.2M494.52 1531v7.2M121.8 1142.46h-7.2M552.39 1531v7.2M121.8 1082.17h-7.2M610.26 1531v7.2M121.8 1021.88h-7.2M668.13 1531v7.2M121.8 961.59h-7.2M726 1531v7.2M121.8 901.3h-7.2M783.87 1531v7.2M121.8 841.01h-7.2" stroke="#000" stroke-width="0.75" fill="none"/>
<text transform="translate(139.77 1556.7) scale(1.0700 1)" style="font-family:'Liberation Sans',sans-serif;font-size:25.7px">0</text>
<text transform="translate(197.26 1556.7) scale(1.0700 1)" style="font-family:'Liberation Sans',sans-serif;font-size:25.7px">1</text>
<text transform="translate(255.47 1556.7) scale(1.0700 1)" style="font-family:'Liberation Sans',sans-serif;font-size:25.7px">2</text>
<text transform="translate(313.45 1556.7) scale(1.0700 1)" style="font-family:'Liberation Sans',sans-serif;font-size:25.7px">3</text>
<text transform="translate(371.32 1556.7) scale(1.0700 1)" style="font-family:'Liberation Sans',sans-serif;font-size:25.7px">4</text>
<text transform="translate(429.12 1556.7) scale(1.0700 1)" style="font-family:'Liberation Sans',sans-serif;font-size:25.7px">5</text>
<text transform="translate(486.89 1556.7) scale(1.0700 1)" style="font-family:'Liberation Sans',sans-serif;font-size:25.7px">6</text>
<text transform="translate(544.82 1556.7) scale(1.0700 1)" style="font-family:'Liberation Sans',sans-serif;font-size:25.7px">7</text>
<text transform="translate(602.73 1556.7) scale(1.0700 1)" style="font-family:'Liberation Sans',sans-serif;font-size:25.7px">8</text>
<text transform="translate(660.56 1556.7) scale(1.0700 1)" style="font-family:'Liberation Sans',sans-serif;font-size:25.7px">9</text>
<text transform="translate(710.32 1556.7) scale(1.0700 1)" style="font-family:'Liberation Sans',sans-serif;font-size:25.7px">10</text>
<text transform="translate(769.33 1556.7) scale(1.0700 1)" style="font-family:'Liberation Sans',sans-serif;font-size:25.7px">11</text>
<text transform="translate(91.67 1512.9) scale(1.0700 1)" style="font-family:'Liberation Sans',sans-serif;font-size:25.7px">0</text>
<text transform="translate(91.94 1452.61) scale(1.0700 1)" style="font-family:'Liberation Sans',sans-serif;font-size:25.7px">1</text>
<text transform="translate(91.94 1392.32) scale(1.0700 1)" style="font-family:'Liberation Sans',sans-serif;font-size:25.7px">2</text>
<text transform="translate(91.81 1332.03) scale(1.0700 1)" style="font-family:'Liberation Sans',sans-serif;font-size:25.7px">3</text>
<text transform="translate(91.39 1271.74) scale(1.0700 1)" style="font-family:'Liberation Sans',sans-serif;font-size:25.7px">4</text>
<text transform="translate(91.74 1211.45) scale(1.0700 1)" style="font-family:'Liberation Sans',sans-serif;font-size:25.7px">5</text>
<text transform="translate(91.81 1151.16) scale(1.0700 1)" style="font-family:'Liberation Sans',sans-serif;font-size:25.7px">6</text>
<text transform="translate(91.94 1090.87) scale(1.0700 1)" style="font-family:'Liberation Sans',sans-serif;font-size:25.7px">7</text>
<text transform="translate(91.81 1030.58) scale(1.0700 1)" style="font-family:'Liberation Sans',sans-serif;font-size:25.7px">8</text>
<text transform="translate(91.88 970.29) scale(1.0700 1)" style="font-family:'Liberation Sans',sans-serif;font-size:25.7px">9</text>
<text transform="translate(76.41 910) scale(1.0700 1)" style="font-family:'Liberation Sans',sans-serif;font-size:25.7px">10</text>
<text transform="translate(78.68 849.71) scale(1.0700 1)" style="font-family:'Liberation Sans',sans-serif;font-size:25.7px">11</text>
<text transform="translate(316.8 1589.9) scale(1.0270 1)" style="font-family:'Liberation Sans',sans-serif;font-size:32.8px">Observation (mm/h)</text>
<text transform="translate(74.3 1293.08) rotate(-90) scale(1.0200 1)" style="font-family:'Liberation Sans',sans-serif;font-size:32.8px">Analysis (mm/h)</text>
<text transform="translate(13.3 862) scale(0.9495 1)" style="font-family:'Liberation Sans',sans-serif;font-size:59px">(c)</text>
</g>
<g id="panel-d">
<text transform="translate(921.52 969.5) scale(1.0897 1)" style="font-family:'Liberation Sans',sans-serif;font-size:27.6px">Ang.</text>
<text transform="translate(986.59 969.5) scale(1.0942 1)" style="font-family:'Liberation Sans',sans-serif;font-size:27.6px">Coeff.</text>
<text transform="translate(1068.59 969.5) scale(1.1520 1)" style="font-family:'Liberation Sans',sans-serif;font-size:27.6px">=</text>
<text transform="translate(1091.08 969.5) scale(1.0870 1)" style="font-family:'Liberation Sans',sans-serif;font-size:27.6px">0.74</text>
<clipPath id="clipd"><rect x="921.8" y="814.5" width="687.7" height="716.5"/></clipPath>
<g clip-path="url(#clipd)">
<path d="M921.8 1530.77L1618.59 804.84" stroke="#000" stroke-width="3.75" stroke-dasharray="15 15" stroke-dashoffset="9" stroke-linecap="round" fill="none"/>
<path d="M947.3 814.5V1531M921.8 1504.2H1609.5" stroke="#cacaca" stroke-width="3" fill="none"/>
<clipPath id="pgdo"><polygon points="947.3,1504.2 958.87,1451.33 982.02,1406.11 1022.53,1359.08 1086.19,1303.74 1155.63,1273.23 1306.09,1139.45 1624.38,786.15 1624.38,1117.14 1306.09,1300.72 1155.63,1392.48 1086.19,1433 1022.53,1469.29 982.02,1490.21 958.87,1500.28 947.3,1504.2"/></clipPath>
<g clip-path="url(#pgdo)"><path d="M951.16 786.15L536.59 1504.2M955.31 786.15L540.75 1504.2M959.47 786.15L544.9 1504.2M963.63 786.15L549.06 1504.2M967.79 786.15L553.22 1504.2M971.94 786.15L557.37 1504.2M976.1 786.15L561.53 1504.2M980.26 786.15L565.69 1504.2M984.41 786.15L569.84 1504.2M988.57 786.15L574 1504.2M992.73 786.15L578.16 1504.2M996.88 786.15L582.32 1504.2M1001.04 786.15L586.47 1504.2M1005.2 786.15L590.63 1504.2M1009.35 786.15L594.79 1504.2M1013.51 786.15L598.94 1504.2M1017.67 786.15L603.1 1504.2M1021.83 786.15L607.26 1504.2M1025.98 786.15L611.41 1504.2M1030.14 786.15L615.57 1504.2M1034.3 786.15L619.73 1504.2M1038.45 786.15L623.88 1504.2M1042.61 786.15L628.04 1504.2M1046.77 786.15L632.2 1504.2M1050.92 786.15L636.36 1504.2M1055.08 786.15L640.51 1504.2M1059.24 786.15L644.67 1504.2M1063.39 786.15L648.83 1504.2M1067.55 786.15L652.98 1504.2M1071.71 786.15L657.14 1504.2M1075.87 786.15L661.3 1504.2M1080.02 786.15L665.45 1504.2M1084.18 786.15L669.61 1504.2M1088.34 786.15L673.77 1504.2M1092.49 786.15L677.92 1504.2M1096.65 786.15L682.08 1504.2M1100.81 786.15L686.24 1504.2M1104.96 786.15L690.4 1504.2M1109.12 786.15L694.55 1504.2M1113.28 786.15L698.71 1504.2M1117.43 786.15L702.87 1504.2M1121.59 786.15L707.02 1504.2M1125.75 786.15L711.18 1504.2M1129.91 786.15L715.34 1504.2M1134.06 786.15L719.49 1504.2M1138.22 786.15L723.65 1504.2M1142.38 786.15L727.81 1504.2M1146.53 786.15L731.96 1504.2M1150.69 786.15L736.12 1504.2M1154.85 786.15L740.28 1504.2M1159 786.15L744.44 1504.2M1163.16 786.15L748.59 1504.2M1167.32 786.15L752.75 1504.2M1171.47 786.15L756.91 1504.2M1175.63 786.15L761.06 1504.2M1179.79 786.15L765.22 1504.2M1183.95 786.15L769.38 1504.2M1188.1 786.15L773.53 1504.2M1192.26 786.15L777.69 1504.2M1196.42 786.15L781.85 1504.2M1200.57 786.15L786 1504.2M1204.73 786.15L790.16 1504.2M1208.89 786.15L794.32 1504.2M1213.04 786.15L798.48 1504.2M1217.2 786.15L802.63 1504.2M1221.36 786.15L806.79 1504.2M1225.51 786.15L810.95 1504.2M1229.67 786.15L815.1 1504.2M1233.83 786.15L819.26 1504.2M1237.99 786.15L823.42 1504.2M1242.14 786.15L827.57 1504.2M1246.3 786.15L831.73 1504.2M1250.46 786.15L835.89 1504.2M1254.61 786.15L840.04 1504.2M1258.77 786.15L844.2 1504.2M1262.93 786.15L848.36 1504.2M1267.08 786.15L852.52 1504.2M1271.24 786.15L856.67 1504.2M1275.4 786.15L860.83 1504.2M1279.55 786.15L864.99 1504.2M1283.71 786.15L869.14 1504.2M1287.87 786.15L873.3 1504.2M1292.03 786.15L877.46 1504.2M1296.18 786.15L881.61 1504.2M1300.34 786.15L885.77 1504.2M1304.5 786.15L889.93 1504.2M1308.65 786.15L894.08 1504.2M1312.81 786.15L898.24 1504.2M1316.97 786.15L902.4 1504.2M1321.12 786.15L906.56 1504.2M1325.28 786.15L910.71 1504.2M1329.44 786.15L914.87 1504.2M1333.59 786.15L919.03 1504.2M1337.75 786.15L923.18 1504.2M1341.91 786.15L927.34 1504.2M1346.07 786.15L931.5 1504.2M1350.22 786.15L935.65 1504.2M1354.38 786.15L939.81 1504.2M1358.54 786.15L943.97 1504.2M1362.69 786.15L948.12 1504.2M1366.85 786.15L952.28 1504.2M1371.01 786.15L956.44 1504.2M1375.16 786.15L960.6 1504.2M1379.32 786.15L964.75 1504.2M1383.48 786.15L968.91 1504.2M1387.63 786.15L973.07 1504.2M1391.79 786.15L977.22 1504.2M1395.95 786.15L981.38 1504.2M1400.11 786.15L985.54 1504.2M1404.26 786.15L989.69 1504.2M1408.42 786.15L993.85 1504.2M1412.58 786.15L998.01 1504.2M1416.73 786.15L1002.16 1504.2M1420.89 786.15L1006.32 1504.2M1425.05 786.15L1010.48 1504.2M1429.2 786.15L1014.64 1504.2M1433.36 786.15L1018.79 1504.2M1437.52 786.15L1022.95 1504.2M1441.67 786.15L1027.11 1504.2M1445.83 786.15L1031.26 1504.2M1449.99 786.15L1035.42 1504.2M1454.15 786.15L1039.58 1504.2M1458.3 786.15L1043.73 1504.2M1462.46 786.15L1047.89 1504.2M1466.62 786.15L1052.05 1504.2M1470.77 786.15L1056.2 1504.2M1474.93 786.15L1060.36 1504.2M1479.09 786.15L1064.52 1504.2M1483.24 786.15L1068.68 1504.2M1487.4 786.15L1072.83 1504.2M1491.56 786.15L1076.99 1504.2M1495.71 786.15L1081.15 1504.2M1499.87 786.15L1085.3 1504.2M1504.03 786.15L1089.46 1504.2M1508.19 786.15L1093.62 1504.2M1512.34 786.15L1097.77 1504.2M1516.5 786.15L1101.93 1504.2M1520.66 786.15L1106.09 1504.2M1524.81 786.15L1110.24 1504.2M1528.97 786.15L1114.4 1504.2M1533.13 786.15L1118.56 1504.2M1537.28 786.15L1122.72 1504.2M1541.44 786.15L1126.87 1504.2M1545.6 786.15L1131.03 1504.2M1549.75 786.15L1135.19 1504.2M1553.91 786.15L1139.34 1504.2M1558.07 786.15L1143.5 1504.2M1562.23 786.15L1147.66 1504.2M1566.38 786.15L1151.81 1504.2M1570.54 786.15L1155.97 1504.2M1574.7 786.15L1160.13 1504.2M1578.85 786.15L1164.28 1504.2M1583.01 786.15L1168.44 1504.2M1587.17 786.15L1172.6 1504.2M1591.32 786.15L1176.76 1504.2M1595.48 786.15L1180.91 1504.2M1599.64 786.15L1185.07 1504.2M1603.79 786.15L1189.23 1504.2M1607.95 786.15L1193.38 1504.2M1612.11 786.15L1197.54 1504.2M1616.27 786.15L1201.7 1504.2M1620.42 786.15L1205.85 1504.2M1624.58 786.15L1210.01 1504.2M1628.74 786.15L1214.17 1504.2M1632.89 786.15L1218.32 1504.2M1637.05 786.15L1222.48 1504.2M1641.21 786.15L1226.64 1504.2M1645.36 786.15L1230.8 1504.2M1649.52 786.15L1234.95 1504.2M1653.68 786.15L1239.11 1504.2M1657.83 786.15L1243.27 1504.2M1661.99 786.15L1247.42 1504.2M1666.15 786.15L1251.58 1504.2M1670.31 786.15L1255.74 1504.2M1674.46 786.15L1259.89 1504.2M1678.62 786.15L1264.05 1504.2M1682.78 786.15L1268.21 1504.2M1686.93 786.15L1272.36 1504.2M1691.09 786.15L1276.52 1504.2M1695.25 786.15L1280.68 1504.2M1699.4 786.15L1284.84 1504.2M1703.56 786.15L1288.99 1504.2M1707.72 786.15L1293.15 1504.2M1711.87 786.15L1297.31 1504.2M1716.03 786.15L1301.46 1504.2M1720.19 786.15L1305.62 1504.2M1724.35 786.15L1309.78 1504.2M1728.5 786.15L1313.93 1504.2M1732.66 786.15L1318.09 1504.2M1736.82 786.15L1322.25 1504.2M1740.97 786.15L1326.4 1504.2M1745.13 786.15L1330.56 1504.2M1749.29 786.15L1334.72 1504.2M1753.44 786.15L1338.88 1504.2M1757.6 786.15L1343.03 1504.2M1761.76 786.15L1347.19 1504.2M1765.91 786.15L1351.35 1504.2M1770.07 786.15L1355.5 1504.2M1774.23 786.15L1359.66 1504.2M1778.39 786.15L1363.82 1504.2M1782.54 786.15L1367.97 1504.2M1786.7 786.15L1372.13 1504.2M1790.86 786.15L1376.29 1504.2M1795.01 786.15L1380.44 1504.2M1799.17 786.15L1384.6 1504.2M1803.33 786.15L1388.76 1504.2M1807.48 786.15L1392.92 1504.2M1811.64 786.15L1397.07 1504.2M1815.8 786.15L1401.23 1504.2M1819.95 786.15L1405.39 1504.2M1824.11 786.15L1409.54 1504.2M1828.27 786.15L1413.7 1504.2M1832.43 786.15L1417.86 1504.2M1836.58 786.15L1422.01 1504.2M1840.74 786.15L1426.17 1504.2M1844.9 786.15L1430.33 1504.2M1849.05 786.15L1434.48 1504.2M1853.21 786.15L1438.64 1504.2M1857.37 786.15L1442.8 1504.2M1861.52 786.15L1446.96 1504.2M1865.68 786.15L1451.11 1504.2M1869.84 786.15L1455.27 1504.2M1873.99 786.15L1459.43 1504.2M1878.15 786.15L1463.58 1504.2M1882.31 786.15L1467.74 1504.2M1886.47 786.15L1471.9 1504.2M1890.62 786.15L1476.05 1504.2M1894.78 786.15L1480.21 1504.2M1898.94 786.15L1484.37 1504.2M1903.09 786.15L1488.52 1504.2M1907.25 786.15L1492.68 1504.2M1911.41 786.15L1496.84 1504.2M1915.56 786.15L1501 1504.2M1919.72 786.15L1505.15 1504.2M1923.88 786.15L1509.31 1504.2M1928.03 786.15L1513.47 1504.2M1932.19 786.15L1517.62 1504.2M1936.35 786.15L1521.78 1504.2M1940.51 786.15L1525.94 1504.2M1944.66 786.15L1530.09 1504.2M1948.82 786.15L1534.25 1504.2M1952.98 786.15L1538.41 1504.2M1957.13 786.15L1542.56 1504.2M1961.29 786.15L1546.72 1504.2M1965.45 786.15L1550.88 1504.2M1969.6 786.15L1555.04 1504.2M1973.76 786.15L1559.19 1504.2M1977.92 786.15L1563.35 1504.2M1982.07 786.15L1567.51 1504.2M1986.23 786.15L1571.66 1504.2M1990.39 786.15L1575.82 1504.2M1994.55 786.15L1579.98 1504.2M1998.7 786.15L1584.13 1504.2M2002.86 786.15L1588.29 1504.2M2007.02 786.15L1592.45 1504.2M2011.17 786.15L1596.6 1504.2M2015.33 786.15L1600.76 1504.2M2019.49 786.15L1604.92 1504.2M2023.64 786.15L1609.08 1504.2M2027.8 786.15L1613.23 1504.2M2031.96 786.15L1617.39 1504.2M2036.11 786.15L1621.55 1504.2" stroke="#000" stroke-width="0.75" fill="none"/></g>
<polygon points="947.3,1504.2 958.87,1451.33 982.02,1406.11 1022.53,1359.08 1086.19,1303.74 1155.63,1273.23 1306.09,1139.45 1624.38,786.15 1624.38,1117.14 1306.09,1300.72 1155.63,1392.48 1086.19,1433 1022.53,1469.29 982.02,1490.21 958.87,1500.28 947.3,1504.2" fill="none" stroke="#000" stroke-width="0.75" stroke-linejoin="round"/>
<clipPath id="pgdi"><polygon points="947.3,1504.2 958.87,1478.28 982.02,1447.11 1022.53,1407.92 1086.19,1356.91 1155.63,1312.3 1306.09,1187.2 1624.38,880.86 1624.38,1053.83 1306.09,1272.99 1155.63,1373.97 1086.19,1416.6 1022.53,1456.75 982.02,1482.74 958.87,1497.57 947.3,1504.2"/></clipPath>
<g clip-path="url(#pgdi)"><path d="M1622.62 880.86L1982.51 1504.2M1619.85 880.86L1979.73 1504.2M1617.08 880.86L1976.96 1504.2M1614.31 880.86L1974.19 1504.2M1611.54 880.86L1971.42 1504.2M1608.76 880.86L1968.65 1504.2M1605.99 880.86L1965.88 1504.2M1603.22 880.86L1963.11 1504.2M1600.45 880.86L1960.34 1504.2M1597.68 880.86L1957.56 1504.2M1594.91 880.86L1954.79 1504.2M1592.14 880.86L1952.02 1504.2M1589.37 880.86L1949.25 1504.2M1586.59 880.86L1946.48 1504.2M1583.82 880.86L1943.71 1504.2M1581.05 880.86L1940.94 1504.2M1578.28 880.86L1938.16 1504.2M1575.51 880.86L1935.39 1504.2M1572.74 880.86L1932.62 1504.2M1569.97 880.86L1929.85 1504.2M1567.2 880.86L1927.08 1504.2M1564.42 880.86L1924.31 1504.2M1561.65 880.86L1921.54 1504.2M1558.88 880.86L1918.77 1504.2M1556.11 880.86L1915.99 1504.2M1553.34 880.86L1913.22 1504.2M1550.57 880.86L1910.45 1504.2M1547.8 880.86L1907.68 1504.2M1545.02 880.86L1904.91 1504.2M1542.25 880.86L1902.14 1504.2M1539.48 880.86L1899.37 1504.2M1536.71 880.86L1896.6 1504.2M1533.94 880.86L1893.82 1504.2M1531.17 880.86L1891.05 1504.2M1528.4 880.86L1888.28 1504.2M1525.63 880.86L1885.51 1504.2M1522.85 880.86L1882.74 1504.2M1520.08 880.86L1879.97 1504.2M1517.31 880.86L1877.2 1504.2M1514.54 880.86L1874.43 1504.2M1511.77 880.86L1871.65 1504.2M1509 880.86L1868.88 1504.2M1506.23 880.86L1866.11 1504.2M1503.46 880.86L1863.34 1504.2M1500.68 880.86L1860.57 1504.2M1497.91 880.86L1857.8 1504.2M1495.14 880.86L1855.03 1504.2M1492.37 880.86L1852.26 1504.2M1489.6 880.86L1849.48 1504.2M1486.83 880.86L1846.71 1504.2M1484.06 880.86L1843.94 1504.2M1481.29 880.86L1841.17 1504.2M1478.51 880.86L1838.4 1504.2M1475.74 880.86L1835.63 1504.2M1472.97 880.86L1832.86 1504.2M1470.2 880.86L1830.08 1504.2M1467.43 880.86L1827.31 1504.2M1464.66 880.86L1824.54 1504.2M1461.89 880.86L1821.77 1504.2M1459.12 880.86L1819 1504.2M1456.34 880.86L1816.23 1504.2M1453.57 880.86L1813.46 1504.2M1450.8 880.86L1810.69 1504.2M1448.03 880.86L1807.91 1504.2M1445.26 880.86L1805.14 1504.2M1442.49 880.86L1802.37 1504.2M1439.72 880.86L1799.6 1504.2M1436.94 880.86L1796.83 1504.2M1434.17 880.86L1794.06 1504.2M1431.4 880.86L1791.29 1504.2M1428.63 880.86L1788.52 1504.2M1425.86 880.86L1785.74 1504.2M1423.09 880.86L1782.97 1504.2M1420.32 880.86L1780.2 1504.2M1417.55 880.86L1777.43 1504.2M1414.77 880.86L1774.66 1504.2M1412 880.86L1771.89 1504.2M1409.23 880.86L1769.12 1504.2M1406.46 880.86L1766.35 1504.2M1403.69 880.86L1763.57 1504.2M1400.92 880.86L1760.8 1504.2M1398.15 880.86L1758.03 1504.2M1395.38 880.86L1755.26 1504.2M1392.6 880.86L1752.49 1504.2M1389.83 880.86L1749.72 1504.2M1387.06 880.86L1746.95 1504.2M1384.29 880.86L1744.18 1504.2M1381.52 880.86L1741.4 1504.2M1378.75 880.86L1738.63 1504.2M1375.98 880.86L1735.86 1504.2M1373.21 880.86L1733.09 1504.2M1370.43 880.86L1730.32 1504.2M1367.66 880.86L1727.55 1504.2M1364.89 880.86L1724.78 1504.2M1362.12 880.86L1722 1504.2M1359.35 880.86L1719.23 1504.2M1356.58 880.86L1716.46 1504.2M1353.81 880.86L1713.69 1504.2M1351.04 880.86L1710.92 1504.2M1348.26 880.86L1708.15 1504.2M1345.49 880.86L1705.38 1504.2M1342.72 880.86L1702.61 1504.2M1339.95 880.86L1699.83 1504.2M1337.18 880.86L1697.06 1504.2M1334.41 880.86L1694.29 1504.2M1331.64 880.86L1691.52 1504.2M1328.86 880.86L1688.75 1504.2M1326.09 880.86L1685.98 1504.2M1323.32 880.86L1683.21 1504.2M1320.55 880.86L1680.44 1504.2M1317.78 880.86L1677.66 1504.2M1315.01 880.86L1674.89 1504.2M1312.24 880.86L1672.12 1504.2M1309.47 880.86L1669.35 1504.2M1306.69 880.86L1666.58 1504.2M1303.92 880.86L1663.81 1504.2M1301.15 880.86L1661.04 1504.2M1298.38 880.86L1658.27 1504.2M1295.61 880.86L1655.49 1504.2M1292.84 880.86L1652.72 1504.2M1290.07 880.86L1649.95 1504.2M1287.3 880.86L1647.18 1504.2M1284.52 880.86L1644.41 1504.2M1281.75 880.86L1641.64 1504.2M1278.98 880.86L1638.87 1504.2M1276.21 880.86L1636.1 1504.2M1273.44 880.86L1633.32 1504.2M1270.67 880.86L1630.55 1504.2M1267.9 880.86L1627.78 1504.2M1265.13 880.86L1625.01 1504.2M1262.35 880.86L1622.24 1504.2M1259.58 880.86L1619.47 1504.2M1256.81 880.86L1616.7 1504.2M1254.04 880.86L1613.92 1504.2M1251.27 880.86L1611.15 1504.2M1248.5 880.86L1608.38 1504.2M1245.73 880.86L1605.61 1504.2M1242.96 880.86L1602.84 1504.2M1240.18 880.86L1600.07 1504.2M1237.41 880.86L1597.3 1504.2M1234.64 880.86L1594.53 1504.2M1231.87 880.86L1591.75 1504.2M1229.1 880.86L1588.98 1504.2M1226.33 880.86L1586.21 1504.2M1223.56 880.86L1583.44 1504.2M1220.79 880.86L1580.67 1504.2M1218.01 880.86L1577.9 1504.2M1215.24 880.86L1575.13 1504.2M1212.47 880.86L1572.36 1504.2M1209.7 880.86L1569.58 1504.2M1206.93 880.86L1566.81 1504.2M1204.16 880.86L1564.04 1504.2M1201.39 880.86L1561.27 1504.2M1198.61 880.86L1558.5 1504.2M1195.84 880.86L1555.73 1504.2M1193.07 880.86L1552.96 1504.2M1190.3 880.86L1550.19 1504.2M1187.53 880.86L1547.41 1504.2M1184.76 880.86L1544.64 1504.2M1181.99 880.86L1541.87 1504.2M1179.22 880.86L1539.1 1504.2M1176.44 880.86L1536.33 1504.2M1173.67 880.86L1533.56 1504.2M1170.9 880.86L1530.79 1504.2M1168.13 880.86L1528.02 1504.2M1165.36 880.86L1525.24 1504.2M1162.59 880.86L1522.47 1504.2M1159.82 880.86L1519.7 1504.2M1157.05 880.86L1516.93 1504.2M1154.27 880.86L1514.16 1504.2M1151.5 880.86L1511.39 1504.2M1148.73 880.86L1508.62 1504.2M1145.96 880.86L1505.84 1504.2M1143.19 880.86L1503.07 1504.2M1140.42 880.86L1500.3 1504.2M1137.65 880.86L1497.53 1504.2M1134.88 880.86L1494.76 1504.2M1132.1 880.86L1491.99 1504.2M1129.33 880.86L1489.22 1504.2M1126.56 880.86L1486.45 1504.2M1123.79 880.86L1483.67 1504.2M1121.02 880.86L1480.9 1504.2M1118.25 880.86L1478.13 1504.2M1115.48 880.86L1475.36 1504.2M1112.71 880.86L1472.59 1504.2M1109.93 880.86L1469.82 1504.2M1107.16 880.86L1467.05 1504.2M1104.39 880.86L1464.28 1504.2M1101.62 880.86L1461.5 1504.2M1098.85 880.86L1458.73 1504.2M1096.08 880.86L1455.96 1504.2M1093.31 880.86L1453.19 1504.2M1090.53 880.86L1450.42 1504.2M1087.76 880.86L1447.65 1504.2M1084.99 880.86L1444.88 1504.2M1082.22 880.86L1442.11 1504.2M1079.45 880.86L1439.33 1504.2M1076.68 880.86L1436.56 1504.2M1073.91 880.86L1433.79 1504.2M1071.14 880.86L1431.02 1504.2M1068.36 880.86L1428.25 1504.2M1065.59 880.86L1425.48 1504.2M1062.82 880.86L1422.71 1504.2M1060.05 880.86L1419.94 1504.2M1057.28 880.86L1417.16 1504.2M1054.51 880.86L1414.39 1504.2M1051.74 880.86L1411.62 1504.2M1048.97 880.86L1408.85 1504.2M1046.19 880.86L1406.08 1504.2M1043.42 880.86L1403.31 1504.2M1040.65 880.86L1400.54 1504.2M1037.88 880.86L1397.77 1504.2M1035.11 880.86L1394.99 1504.2M1032.34 880.86L1392.22 1504.2M1029.57 880.86L1389.45 1504.2M1026.8 880.86L1386.68 1504.2M1024.02 880.86L1383.91 1504.2M1021.25 880.86L1381.14 1504.2M1018.48 880.86L1378.37 1504.2M1015.71 880.86L1375.59 1504.2M1012.94 880.86L1372.82 1504.2M1010.17 880.86L1370.05 1504.2M1007.4 880.86L1367.28 1504.2M1004.63 880.86L1364.51 1504.2M1001.85 880.86L1361.74 1504.2M999.08 880.86L1358.97 1504.2M996.31 880.86L1356.2 1504.2M993.54 880.86L1353.42 1504.2M990.77 880.86L1350.65 1504.2M988 880.86L1347.88 1504.2M985.23 880.86L1345.11 1504.2M982.45 880.86L1342.34 1504.2M979.68 880.86L1339.57 1504.2M976.91 880.86L1336.8 1504.2M974.14 880.86L1334.03 1504.2M971.37 880.86L1331.25 1504.2M968.6 880.86L1328.48 1504.2M965.83 880.86L1325.71 1504.2M963.06 880.86L1322.94 1504.2M960.28 880.86L1320.17 1504.2M957.51 880.86L1317.4 1504.2M954.74 880.86L1314.63 1504.2M951.97 880.86L1311.86 1504.2M949.2 880.86L1309.08 1504.2M946.43 880.86L1306.31 1504.2M943.66 880.86L1303.54 1504.2M940.89 880.86L1300.77 1504.2M938.11 880.86L1298 1504.2M935.34 880.86L1295.23 1504.2M932.57 880.86L1292.46 1504.2M929.8 880.86L1289.69 1504.2M927.03 880.86L1286.91 1504.2M924.26 880.86L1284.14 1504.2M921.49 880.86L1281.37 1504.2M918.72 880.86L1278.6 1504.2M915.94 880.86L1275.83 1504.2M913.17 880.86L1273.06 1504.2M910.4 880.86L1270.29 1504.2M907.63 880.86L1267.51 1504.2M904.86 880.86L1264.74 1504.2M902.09 880.86L1261.97 1504.2M899.32 880.86L1259.2 1504.2M896.55 880.86L1256.43 1504.2M893.77 880.86L1253.66 1504.2M891 880.86L1250.89 1504.2M888.23 880.86L1248.12 1504.2M885.46 880.86L1245.34 1504.2M882.69 880.86L1242.57 1504.2M879.92 880.86L1239.8 1504.2M877.15 880.86L1237.03 1504.2M874.37 880.86L1234.26 1504.2M871.6 880.86L1231.49 1504.2M868.83 880.86L1228.72 1504.2M866.06 880.86L1225.95 1504.2M863.29 880.86L1223.17 1504.2M860.52 880.86L1220.4 1504.2M857.75 880.86L1217.63 1504.2M854.98 880.86L1214.86 1504.2M852.2 880.86L1212.09 1504.2M849.43 880.86L1209.32 1504.2M846.66 880.86L1206.55 1504.2M843.89 880.86L1203.78 1504.2M841.12 880.86L1201 1504.2M838.35 880.86L1198.23 1504.2M835.58 880.86L1195.46 1504.2M832.81 880.86L1192.69 1504.2M830.03 880.86L1189.92 1504.2M827.26 880.86L1187.15 1504.2M824.49 880.86L1184.38 1504.2M821.72 880.86L1181.61 1504.2M818.95 880.86L1178.83 1504.2M816.18 880.86L1176.06 1504.2M813.41 880.86L1173.29 1504.2M810.64 880.86L1170.52 1504.2M807.86 880.86L1167.75 1504.2M805.09 880.86L1164.98 1504.2M802.32 880.86L1162.21 1504.2M799.55 880.86L1159.43 1504.2M796.78 880.86L1156.66 1504.2M794.01 880.86L1153.89 1504.2M791.24 880.86L1151.12 1504.2M788.47 880.86L1148.35 1504.2M785.69 880.86L1145.58 1504.2M782.92 880.86L1142.81 1504.2M780.15 880.86L1140.04 1504.2M777.38 880.86L1137.26 1504.2M774.61 880.86L1134.49 1504.2M771.84 880.86L1131.72 1504.2M769.07 880.86L1128.95 1504.2M766.29 880.86L1126.18 1504.2M763.52 880.86L1123.41 1504.2M760.75 880.86L1120.64 1504.2M757.98 880.86L1117.87 1504.2M755.21 880.86L1115.09 1504.2M752.44 880.86L1112.32 1504.2M749.67 880.86L1109.55 1504.2M746.9 880.86L1106.78 1504.2M744.12 880.86L1104.01 1504.2M741.35 880.86L1101.24 1504.2M738.58 880.86L1098.47 1504.2M735.81 880.86L1095.7 1504.2M733.04 880.86L1092.92 1504.2M730.27 880.86L1090.15 1504.2M727.5 880.86L1087.38 1504.2M724.73 880.86L1084.61 1504.2M721.95 880.86L1081.84 1504.2M719.18 880.86L1079.07 1504.2M716.41 880.86L1076.3 1504.2M713.64 880.86L1073.53 1504.2M710.87 880.86L1070.75 1504.2M708.1 880.86L1067.98 1504.2M705.33 880.86L1065.21 1504.2M702.56 880.86L1062.44 1504.2M699.78 880.86L1059.67 1504.2M697.01 880.86L1056.9 1504.2M694.24 880.86L1054.13 1504.2M691.47 880.86L1051.35 1504.2M688.7 880.86L1048.58 1504.2M685.93 880.86L1045.81 1504.2M683.16 880.86L1043.04 1504.2M680.39 880.86L1040.27 1504.2M677.61 880.86L1037.5 1504.2M674.84 880.86L1034.73 1504.2M672.07 880.86L1031.96 1504.2M669.3 880.86L1029.18 1504.2M666.53 880.86L1026.41 1504.2M663.76 880.86L1023.64 1504.2M660.99 880.86L1020.87 1504.2M658.21 880.86L1018.1 1504.2M655.44 880.86L1015.33 1504.2M652.67 880.86L1012.56 1504.2M649.9 880.86L1009.79 1504.2M647.13 880.86L1007.01 1504.2M644.36 880.86L1004.24 1504.2M641.59 880.86L1001.47 1504.2M638.82 880.86L998.7 1504.2M636.04 880.86L995.93 1504.2M633.27 880.86L993.16 1504.2M630.5 880.86L990.39 1504.2M627.73 880.86L987.62 1504.2M624.96 880.86L984.84 1504.2M622.19 880.86L982.07 1504.2M619.42 880.86L979.3 1504.2M616.65 880.86L976.53 1504.2M613.87 880.86L973.76 1504.2M611.1 880.86L970.99 1504.2M608.33 880.86L968.22 1504.2M605.56 880.86L965.45 1504.2M602.79 880.86L962.67 1504.2M600.02 880.86L959.9 1504.2M597.25 880.86L957.13 1504.2M594.48 880.86L954.36 1504.2M591.7 880.86L951.59 1504.2M588.93 880.86L948.82 1504.2" stroke="#000" stroke-width="0.75" fill="none"/></g>
<polygon points="947.3,1504.2 958.87,1478.28 982.02,1447.11 1022.53,1407.92 1086.19,1356.91 1155.63,1312.3 1306.09,1187.2 1624.38,880.86 1624.38,1053.83 1306.09,1272.99 1155.63,1373.97 1086.19,1416.6 1022.53,1456.75 982.02,1482.74 958.87,1497.57 947.3,1504.2" fill="none" stroke="#000" stroke-width="0.75" stroke-linejoin="round"/>
<polyline points="947.3,1504.2 958.87,1492.74 982.02,1471.7 1022.53,1439.09 1086.19,1392.9 1155.63,1348.71 1306.09,1237.6 1624.38,973.83" fill="none" stroke="#000" stroke-width="4.5" stroke-linejoin="round" stroke-linecap="butt"/>
</g>
<rect x="921.8" y="814.5" width="687.7" height="716.5" fill="none" stroke="#000" stroke-width="0.75"/>
<path d="M947.3 1531H1583.87M921.8 1504.2V841.01M947.3 1531v7.2M921.8 1504.2h-7.2M1005.17 1531v7.2M921.8 1443.91h-7.2M1063.04 1531v7.2M921.8 1383.62h-7.2M1120.91 1531v7.2M921.8 1323.33h-7.2M1178.78 1531v7.2M921.8 1263.04h-7.2M1236.65 1531v7.2M921.8 1202.75h-7.2M1294.52 1531v7.2M921.8 1142.46h-7.2M1352.39 1531v7.2M921.8 1082.17h-7.2M1410.26 1531v7.2M921.8 1021.88h-7.2M1468.13 1531v7.2M921.8 961.59h-7.2M1526 1531v7.2M921.8 901.3h-7.2M1583.87 1531v7.2M921.8 841.01h-7.2" stroke="#000" stroke-width="0.75" fill="none"/>
<text transform="translate(939.77 1556.7) scale(1.0700 1)" style="font-family:'Liberation Sans',sans-serif;font-size:25.7px">0</text>
<text transform="translate(997.26 1556.7) scale(1.0700 1)" style="font-family:'Liberation Sans',sans-serif;font-size:25.7px">1</text>
<text transform="translate(1055.47 1556.7) scale(1.0700 1)" style="font-family:'Liberation Sans',sans-serif;font-size:25.7px">2</text>
<text transform="translate(1113.45 1556.7) scale(1.0700 1)" style="font-family:'Liberation Sans',sans-serif;font-size:25.7px">3</text>
<text transform="translate(1171.32 1556.7) scale(1.0700 1)" style="font-family:'Liberation Sans',sans-serif;font-size:25.7px">4</text>
<text transform="translate(1229.12 1556.7) scale(1.0700 1)" style="font-family:'Liberation Sans',sans-serif;font-size:25.7px">5</text>
<text transform="translate(1286.89 1556.7) scale(1.0700 1)" style="font-family:'Liberation Sans',sans-serif;font-size:25.7px">6</text>
<text transform="translate(1344.82 1556.7) scale(1.0700 1)" style="font-family:'Liberation Sans',sans-serif;font-size:25.7px">7</text>
<text transform="translate(1402.73 1556.7) scale(1.0700 1)" style="font-family:'Liberation Sans',sans-serif;font-size:25.7px">8</text>
<text transform="translate(1460.56 1556.7) scale(1.0700 1)" style="font-family:'Liberation Sans',sans-serif;font-size:25.7px">9</text>
<text transform="translate(1510.32 1556.7) scale(1.0700 1)" style="font-family:'Liberation Sans',sans-serif;font-size:25.7px">10</text>
<text transform="translate(1569.33 1556.7) scale(1.0700 1)" style="font-family:'Liberation Sans',sans-serif;font-size:25.7px">11</text>
<text transform="translate(891.67 1512.9) scale(1.0700 1)" style="font-family:'Liberation Sans',sans-serif;font-size:25.7px">0</text>
<text transform="translate(891.94 1452.61) scale(1.0700 1)" style="font-family:'Liberation Sans',sans-serif;font-size:25.7px">1</text>
<text transform="translate(891.94 1392.32) scale(1.0700 1)" style="font-family:'Liberation Sans',sans-serif;font-size:25.7px">2</text>
<text transform="translate(891.81 1332.03) scale(1.0700 1)" style="font-family:'Liberation Sans',sans-serif;font-size:25.7px">3</text>
<text transform="translate(891.39 1271.74) scale(1.0700 1)" style="font-family:'Liberation Sans',sans-serif;font-size:25.7px">4</text>
<text transform="translate(891.74 1211.45) scale(1.0700 1)" style="font-family:'Liberation Sans',sans-serif;font-size:25.7px">5</text>
<text transform="translate(891.81 1151.16) scale(1.0700 1)" style="font-family:'Liberation Sans',sans-serif;font-size:25.7px">6</text>
<text transform="translate(891.94 1090.87) scale(1.0700 1)" style="font-family:'Liberation Sans',sans-serif;font-size:25.7px">7</text>
<text transform="translate(891.81 1030.58) scale(1.0700 1)" style="font-family:'Liberation Sans',sans-serif;font-size:25.7px">8</text>
<text transform="translate(891.88 970.29) scale(1.0700 1)" style="font-family:'Liberation Sans',sans-serif;font-size:25.7px">9</text>
<text transform="translate(876.41 910) scale(1.0700 1)" style="font-family:'Liberation Sans',sans-serif;font-size:25.7px">10</text>
<text transform="translate(878.68 849.71) scale(1.0700 1)" style="font-family:'Liberation Sans',sans-serif;font-size:25.7px">11</text>
<text transform="translate(807.14 862) scale(0.9923 1)" style="font-family:'Liberation Sans',sans-serif;font-size:59px">(d)</text>
</g>
<text transform="translate(973.66 57.8) scale(1.0994 1)" style="font-family:'Liberation Serif',serif;font-size:50.21px">ν</text>
<text transform="translate(1002.45 57.8) scale(1.0299 1)" style="font-family:'Liberation Sans',sans-serif;font-size:48px">=</text>
<text transform="translate(1034.58 57.8) scale(1.0046 1)" style="font-family:'Liberation Sans',sans-serif;font-size:48px">1.0</text>
<text transform="translate(967.69 124.71) scale(0.9281 1)" style="font-family:'Liberation Serif',serif;font-size:49.17px">ε</text>
<text transform="translate(987.77 101.1) scale(1.0659 1)" style="font-family:'Liberation Sans',sans-serif;font-size:32.4px">2</text>
<text transform="translate(1010.79 124.7) scale(1.0128 1)" style="font-family:'Liberation Sans',sans-serif;font-size:48px">=</text>
<text transform="translate(1043.02 124.7) scale(0.9948 1)" style="font-family:'Liberation Sans',sans-serif;font-size:48px">1.0</text>
<text transform="translate(173.66 857.8) scale(1.0994 1)" style="font-family:'Liberation Serif',serif;font-size:50.21px">ν</text>
<text transform="translate(201.45 857.8) scale(1.0299 1)" style="font-family:'Liberation Sans',sans-serif;font-size:48px">=</text>
<text transform="translate(233 857.8) scale(0.9978 1)" style="font-family:'Liberation Sans',sans-serif;font-size:48px">0.1</text>
<text transform="translate(167.69 924.71) scale(0.9281 1)" style="font-family:'Liberation Serif',serif;font-size:49.17px">ε</text>
<text transform="translate(187.77 901.1) scale(1.0659 1)" style="font-family:'Liberation Sans',sans-serif;font-size:32.4px">2</text>
<text transform="translate(209.85 924.7) scale(1.0299 1)" style="font-family:'Liberation Sans',sans-serif;font-size:48px">=</text>
<text transform="translate(240.89 924.7) scale(1.0057 1)" style="font-family:'Liberation Sans',sans-serif;font-size:48px">0.1</text>
<text transform="translate(973.66 857.8) scale(1.0994 1)" style="font-family:'Liberation Serif',serif;font-size:50.21px">ν</text>
<text transform="translate(1002.45 857.8) scale(1.0299 1)" style="font-family:'Liberation Sans',sans-serif;font-size:48px">=</text>
<text transform="translate(1034.58 857.8) scale(1.0046 1)" style="font-family:'Liberation Sans',sans-serif;font-size:48px">1.0</text>
<text transform="translate(967.69 924.71) scale(0.9281 1)" style="font-family:'Liberation Serif',serif;font-size:49.17px">ε</text>
<text transform="translate(987.77 901.1) scale(1.0659 1)" style="font-family:'Liberation Sans',sans-serif;font-size:32.4px">2</text>
<text transform="translate(1009.85 924.7) scale(1.0299 1)" style="font-family:'Liberation Sans',sans-serif;font-size:48px">=</text>
<text transform="translate(1040.89 924.7) scale(1.0057 1)" style="font-family:'Liberation Sans',sans-serif;font-size:48px">0.1</text>
</svg></body></html>
